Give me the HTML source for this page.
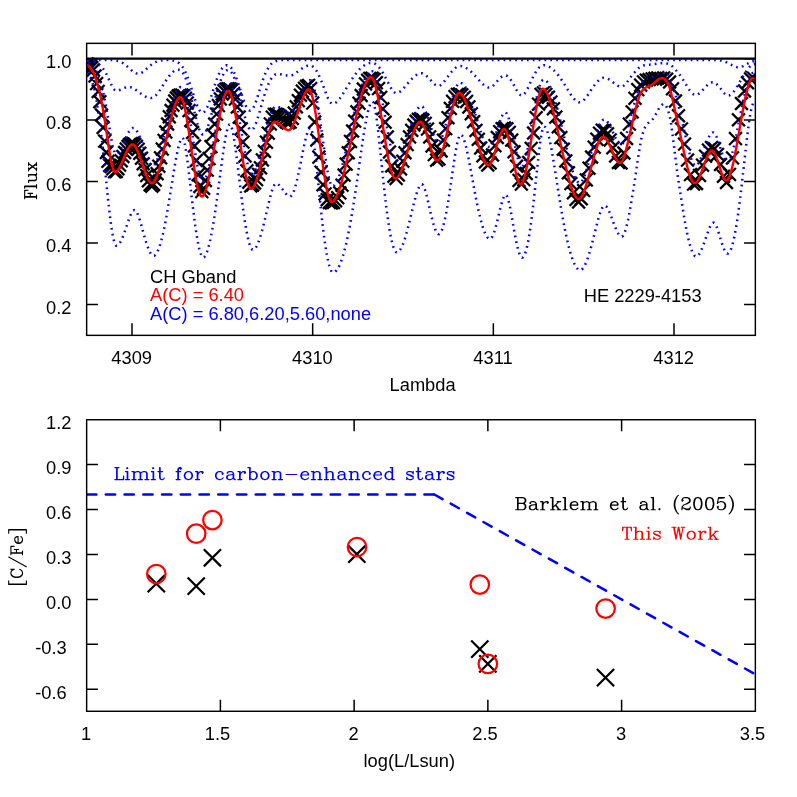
<!DOCTYPE html><html><head><meta charset="utf-8"><title>plot</title><style>html,body{margin:0;padding:0;background:#fff}svg{display:block;will-change:transform}</style></head><body><svg width="797" height="797" viewBox="0 0 797 797">
<rect width="797" height="797" fill="#fff"/>
<defs><clipPath id="c1"><rect x="86.65" y="43.35" width="668.7" height="292.0"/></clipPath><clipPath id="c2"><rect x="86.65" y="419.75" width="668.7" height="291.53"/></clipPath></defs>
<g clip-path="url(#c1)">
<line x1="86.65" y1="58.65" x2="755.35" y2="58.65" stroke="#000" stroke-width="2.25"/>
<path d="M81.4 58.3l11.2 11.2M81.4 69.5l11.2 -11.2M83.0 59.2l11.2 11.2M83.0 70.4l11.2 -11.2M84.6 60.4l11.2 11.2M84.6 71.6l11.2 -11.2M86.2 62.0l11.2 11.2M86.2 73.2l11.2 -11.2M87.8 64.3l11.2 11.2M87.8 75.5l11.2 -11.2M89.4 70.4l11.2 11.2M89.4 81.6l11.2 -11.2M91.0 78.0l11.2 11.2M91.0 89.2l11.2 -11.2M92.6 85.8l11.2 11.2M92.6 97.0l11.2 -11.2M94.2 96.1l11.2 11.2M94.2 107.3l11.2 -11.2M95.9 109.4l11.2 11.2M95.9 120.6l11.2 -11.2M97.5 121.9l11.2 11.2M97.5 133.1l11.2 -11.2M99.1 135.5l11.2 11.2M99.1 146.7l11.2 -11.2M100.8 146.9l11.2 11.2M100.8 158.1l11.2 -11.2M102.4 155.7l11.2 11.2M102.4 166.9l11.2 -11.2M104.1 159.8l11.2 11.2M104.1 171.0l11.2 -11.2M105.7 161.0l11.2 11.2M105.7 172.2l11.2 -11.2M107.3 163.2l11.2 11.2M107.3 174.4l11.2 -11.2M109.0 166.2l11.2 11.2M109.0 177.4l11.2 -11.2M110.7 165.8l11.2 11.2M110.7 177.0l11.2 -11.2M112.3 163.2l11.2 11.2M112.3 174.4l11.2 -11.2M114.0 159.5l11.2 11.2M114.0 170.7l11.2 -11.2M115.6 155.2l11.2 11.2M115.6 166.4l11.2 -11.2M117.3 150.9l11.2 11.2M117.3 162.1l11.2 -11.2M119.0 146.9l11.2 11.2M119.0 158.1l11.2 -11.2M120.7 143.5l11.2 11.2M120.7 154.7l11.2 -11.2M122.4 140.8l11.2 11.2M122.4 152.0l11.2 -11.2M124.0 138.9l11.2 11.2M124.0 150.1l11.2 -11.2M125.7 138.0l11.2 11.2M125.7 149.2l11.2 -11.2M127.4 137.9l11.2 11.2M127.4 149.1l11.2 -11.2M129.1 138.8l11.2 11.2M129.1 150.0l11.2 -11.2M130.8 140.7l11.2 11.2M130.8 151.9l11.2 -11.2M132.5 143.7l11.2 11.2M132.5 154.9l11.2 -11.2M134.2 147.7l11.2 11.2M134.2 158.9l11.2 -11.2M135.9 152.6l11.2 11.2M135.9 163.8l11.2 -11.2M137.6 158.2l11.2 11.2M137.6 169.4l11.2 -11.2M139.4 164.1l11.2 11.2M139.4 175.3l11.2 -11.2M141.1 170.0l11.2 11.2M141.1 181.2l11.2 -11.2M142.8 175.2l11.2 11.2M142.8 186.4l11.2 -11.2M144.5 179.1l11.2 11.2M144.5 190.3l11.2 -11.2M146.2 180.6l11.2 11.2M146.2 191.8l11.2 -11.2M148.0 178.9l11.2 11.2M148.0 190.1l11.2 -11.2M149.7 174.5l11.2 11.2M149.7 185.7l11.2 -11.2M151.5 168.1l11.2 11.2M151.5 179.3l11.2 -11.2M153.2 160.6l11.2 11.2M153.2 171.8l11.2 -11.2M155.0 152.2l11.2 11.2M155.0 163.4l11.2 -11.2M156.7 143.5l11.2 11.2M156.7 154.7l11.2 -11.2M158.5 134.8l11.2 11.2M158.5 146.0l11.2 -11.2M160.2 126.4l11.2 11.2M160.2 137.6l11.2 -11.2M162.0 118.4l11.2 11.2M162.0 129.6l11.2 -11.2M163.7 111.2l11.2 11.2M163.7 122.4l11.2 -11.2M165.5 104.9l11.2 11.2M165.5 116.1l11.2 -11.2M167.3 99.6l11.2 11.2M167.3 110.8l11.2 -11.2M169.1 95.4l11.2 11.2M169.1 106.6l11.2 -11.2M170.8 92.4l11.2 11.2M170.8 103.6l11.2 -11.2M172.6 90.5l11.2 11.2M172.6 101.7l11.2 -11.2M174.4 89.6l11.2 11.2M174.4 100.8l11.2 -11.2M176.2 89.5l11.2 11.2M176.2 100.7l11.2 -11.2M178.0 90.2l11.2 11.2M178.0 101.4l11.2 -11.2M179.8 92.7l11.2 11.2M179.8 103.9l11.2 -11.2M181.6 97.5l11.2 11.2M181.6 108.7l11.2 -11.2M183.4 105.0l11.2 11.2M183.4 116.2l11.2 -11.2M185.2 114.9l11.2 11.2M185.2 126.1l11.2 -11.2M187.0 126.9l11.2 11.2M187.0 138.1l11.2 -11.2M188.9 140.4l11.2 11.2M188.9 151.6l11.2 -11.2M190.7 154.9l11.2 11.2M190.7 166.1l11.2 -11.2M192.5 169.1l11.2 11.2M192.5 180.3l11.2 -11.2M194.3 180.9l11.2 11.2M194.3 192.1l11.2 -11.2M196.2 186.0l11.2 11.2M196.2 197.2l11.2 -11.2M198.0 182.7l11.2 11.2M198.0 193.9l11.2 -11.2M199.8 174.9l11.2 11.2M199.8 186.1l11.2 -11.2M201.7 164.5l11.2 11.2M201.7 175.7l11.2 -11.2M203.5 153.0l11.2 11.2M203.5 164.2l11.2 -11.2M205.4 141.0l11.2 11.2M205.4 152.2l11.2 -11.2M207.2 129.3l11.2 11.2M207.2 140.5l11.2 -11.2M209.1 118.4l11.2 11.2M209.1 129.6l11.2 -11.2M211.0 108.5l11.2 11.2M211.0 119.7l11.2 -11.2M212.8 100.0l11.2 11.2M212.8 111.2l11.2 -11.2M214.7 93.3l11.2 11.2M214.7 104.5l11.2 -11.2M216.6 88.4l11.2 11.2M216.6 99.6l11.2 -11.2M218.4 85.2l11.2 11.2M218.4 96.4l11.2 -11.2M220.3 83.6l11.2 11.2M220.3 94.8l11.2 -11.2M222.2 83.1l11.2 11.2M222.2 94.3l11.2 -11.2M224.1 83.4l11.2 11.2M224.1 94.6l11.2 -11.2M226.0 84.8l11.2 11.2M226.0 96.0l11.2 -11.2M227.9 88.0l11.2 11.2M227.9 99.2l11.2 -11.2M229.8 93.5l11.2 11.2M229.8 104.7l11.2 -11.2M231.7 101.4l11.2 11.2M231.7 112.6l11.2 -11.2M233.6 111.5l11.2 11.2M233.6 122.7l11.2 -11.2M235.5 123.4l11.2 11.2M235.5 134.6l11.2 -11.2M237.4 136.5l11.2 11.2M237.4 147.7l11.2 -11.2M239.4 150.3l11.2 11.2M239.4 161.5l11.2 -11.2M241.3 165.2l11.2 11.2M241.3 176.4l11.2 -11.2M243.2 176.6l11.2 11.2M243.2 187.8l11.2 -11.2M245.1 180.3l11.2 11.2M245.1 191.5l11.2 -11.2M247.1 179.4l11.2 11.2M247.1 190.6l11.2 -11.2M249.0 177.4l11.2 11.2M249.0 188.6l11.2 -11.2M251.0 174.0l11.2 11.2M251.0 185.2l11.2 -11.2M252.9 168.8l11.2 11.2M252.9 180.0l11.2 -11.2M254.9 162.2l11.2 11.2M254.9 173.4l11.2 -11.2M256.8 154.3l11.2 11.2M256.8 165.5l11.2 -11.2M258.8 145.7l11.2 11.2M258.8 156.9l11.2 -11.2M260.8 136.6l11.2 11.2M260.8 147.8l11.2 -11.2M262.7 127.6l11.2 11.2M262.7 138.8l11.2 -11.2M264.7 118.3l11.2 11.2M264.7 129.5l11.2 -11.2M266.7 111.6l11.2 11.2M266.7 122.8l11.2 -11.2M268.7 108.8l11.2 11.2M268.7 120.0l11.2 -11.2M270.6 108.6l11.2 11.2M270.6 119.8l11.2 -11.2M272.6 109.4l11.2 11.2M272.6 120.6l11.2 -11.2M274.6 110.8l11.2 11.2M274.6 122.0l11.2 -11.2M276.6 112.5l11.2 11.2M276.6 123.7l11.2 -11.2M278.6 114.4l11.2 11.2M278.6 125.6l11.2 -11.2M280.6 116.2l11.2 11.2M280.6 127.4l11.2 -11.2M282.6 117.3l11.2 11.2M282.6 128.5l11.2 -11.2M284.6 116.5l11.2 11.2M284.6 127.7l11.2 -11.2M286.7 112.9l11.2 11.2M286.7 124.1l11.2 -11.2M288.7 107.5l11.2 11.2M288.7 118.7l11.2 -11.2M290.7 101.2l11.2 11.2M290.7 112.4l11.2 -11.2M292.7 95.1l11.2 11.2M292.7 106.3l11.2 -11.2M294.8 89.6l11.2 11.2M294.8 100.8l11.2 -11.2M296.8 85.5l11.2 11.2M296.8 96.7l11.2 -11.2M298.9 82.7l11.2 11.2M298.9 93.9l11.2 -11.2M300.9 80.7l11.2 11.2M300.9 91.9l11.2 -11.2M303.0 79.8l11.2 11.2M303.0 91.0l11.2 -11.2M305.0 83.0l11.2 11.2M305.0 94.2l11.2 -11.2M307.1 97.5l11.2 11.2M307.1 108.7l11.2 -11.2M309.1 116.4l11.2 11.2M309.1 127.6l11.2 -11.2M311.2 134.4l11.2 11.2M311.2 145.6l11.2 -11.2M313.3 151.5l11.2 11.2M313.3 162.7l11.2 -11.2M315.4 166.6l11.2 11.2M315.4 177.8l11.2 -11.2M317.4 179.1l11.2 11.2M317.4 190.3l11.2 -11.2M319.5 188.3l11.2 11.2M319.5 199.5l11.2 -11.2M321.6 194.1l11.2 11.2M321.6 205.3l11.2 -11.2M323.7 196.8l11.2 11.2M323.7 208.0l11.2 -11.2M325.8 197.4l11.2 11.2M325.8 208.6l11.2 -11.2M327.9 196.9l11.2 11.2M327.9 208.1l11.2 -11.2M330.0 195.1l11.2 11.2M330.0 206.3l11.2 -11.2M332.1 192.1l11.2 11.2M332.1 203.3l11.2 -11.2M334.2 187.3l11.2 11.2M334.2 198.5l11.2 -11.2M336.4 179.6l11.2 11.2M336.4 190.8l11.2 -11.2M338.5 169.5l11.2 11.2M338.5 180.7l11.2 -11.2M340.6 158.5l11.2 11.2M340.6 169.7l11.2 -11.2M342.7 147.2l11.2 11.2M342.7 158.4l11.2 -11.2M344.9 135.8l11.2 11.2M344.9 147.0l11.2 -11.2M347.0 125.4l11.2 11.2M347.0 136.6l11.2 -11.2M349.1 115.5l11.2 11.2M349.1 126.7l11.2 -11.2M351.3 106.2l11.2 11.2M351.3 117.4l11.2 -11.2M353.4 97.6l11.2 11.2M353.4 108.8l11.2 -11.2M355.6 89.9l11.2 11.2M355.6 101.1l11.2 -11.2M357.7 83.4l11.2 11.2M357.7 94.6l11.2 -11.2M359.9 78.3l11.2 11.2M359.9 89.5l11.2 -11.2M362.1 74.7l11.2 11.2M362.1 85.9l11.2 -11.2M364.2 72.8l11.2 11.2M364.2 84.0l11.2 -11.2M366.4 72.6l11.2 11.2M366.4 83.8l11.2 -11.2M368.6 73.8l11.2 11.2M368.6 85.0l11.2 -11.2M370.7 77.1l11.2 11.2M370.7 88.3l11.2 -11.2M372.9 83.0l11.2 11.2M372.9 94.2l11.2 -11.2M375.1 91.8l11.2 11.2M375.1 103.0l11.2 -11.2M377.3 103.2l11.2 11.2M377.3 114.4l11.2 -11.2M379.5 116.6l11.2 11.2M379.5 127.8l11.2 -11.2M381.7 131.4l11.2 11.2M381.7 142.6l11.2 -11.2M383.9 146.4l11.2 11.2M383.9 157.6l11.2 -11.2M386.1 160.4l11.2 11.2M386.1 171.6l11.2 -11.2M388.3 170.6l11.2 11.2M388.3 181.8l11.2 -11.2M390.5 172.8l11.2 11.2M390.5 184.0l11.2 -11.2M392.7 169.4l11.2 11.2M392.7 180.6l11.2 -11.2M394.9 163.3l11.2 11.2M394.9 174.5l11.2 -11.2M397.2 155.6l11.2 11.2M397.2 166.8l11.2 -11.2M399.4 147.2l11.2 11.2M399.4 158.4l11.2 -11.2M401.6 139.0l11.2 11.2M401.6 150.2l11.2 -11.2M403.9 131.3l11.2 11.2M403.9 142.5l11.2 -11.2M406.1 124.7l11.2 11.2M406.1 135.9l11.2 -11.2M408.3 119.4l11.2 11.2M408.3 130.6l11.2 -11.2M410.6 115.7l11.2 11.2M410.6 126.9l11.2 -11.2M412.8 113.7l11.2 11.2M412.8 124.9l11.2 -11.2M415.1 113.2l11.2 11.2M415.1 124.4l11.2 -11.2M417.3 114.4l11.2 11.2M417.3 125.6l11.2 -11.2M419.6 117.8l11.2 11.2M419.6 129.0l11.2 -11.2M421.9 123.5l11.2 11.2M421.9 134.7l11.2 -11.2M424.1 131.3l11.2 11.2M424.1 142.5l11.2 -11.2M426.4 140.3l11.2 11.2M426.4 151.5l11.2 -11.2M428.7 149.0l11.2 11.2M428.7 160.2l11.2 -11.2M431.0 154.6l11.2 11.2M431.0 165.8l11.2 -11.2M433.3 153.3l11.2 11.2M433.3 164.5l11.2 -11.2M435.5 145.4l11.2 11.2M435.5 156.6l11.2 -11.2M437.8 134.6l11.2 11.2M437.8 145.8l11.2 -11.2M440.1 123.0l11.2 11.2M440.1 134.2l11.2 -11.2M442.4 112.1l11.2 11.2M442.4 123.3l11.2 -11.2M444.7 102.8l11.2 11.2M444.7 114.0l11.2 -11.2M447.0 95.7l11.2 11.2M447.0 106.9l11.2 -11.2M449.4 91.0l11.2 11.2M449.4 102.2l11.2 -11.2M451.7 88.8l11.2 11.2M451.7 100.0l11.2 -11.2M454.0 88.3l11.2 11.2M454.0 99.5l11.2 -11.2M456.3 89.3l11.2 11.2M456.3 100.5l11.2 -11.2M458.7 91.7l11.2 11.2M458.7 102.9l11.2 -11.2M461.0 95.8l11.2 11.2M461.0 107.0l11.2 -11.2M463.3 101.3l11.2 11.2M463.3 112.5l11.2 -11.2M465.7 108.2l11.2 11.2M465.7 119.4l11.2 -11.2M468.0 116.1l11.2 11.2M468.0 127.3l11.2 -11.2M470.4 124.8l11.2 11.2M470.4 136.0l11.2 -11.2M472.7 133.7l11.2 11.2M472.7 144.9l11.2 -11.2M475.1 142.4l11.2 11.2M475.1 153.6l11.2 -11.2M477.4 150.2l11.2 11.2M477.4 161.4l11.2 -11.2M479.8 156.3l11.2 11.2M479.8 167.5l11.2 -11.2M482.2 159.4l11.2 11.2M482.2 170.6l11.2 -11.2M484.5 157.3l11.2 11.2M484.5 168.5l11.2 -11.2M486.9 149.4l11.2 11.2M486.9 160.6l11.2 -11.2M489.3 140.1l11.2 11.2M489.3 151.3l11.2 -11.2M491.7 131.9l11.2 11.2M491.7 143.1l11.2 -11.2M494.1 126.1l11.2 11.2M494.1 137.3l11.2 -11.2M496.5 123.1l11.2 11.2M496.5 134.3l11.2 -11.2M498.9 122.4l11.2 11.2M498.9 133.6l11.2 -11.2M501.3 123.2l11.2 11.2M501.3 134.4l11.2 -11.2M503.7 126.8l11.2 11.2M503.7 138.0l11.2 -11.2M506.1 134.5l11.2 11.2M506.1 145.7l11.2 -11.2M508.5 146.2l11.2 11.2M508.5 157.4l11.2 -11.2M510.9 160.6l11.2 11.2M510.9 171.8l11.2 -11.2M513.4 174.8l11.2 11.2M513.4 186.0l11.2 -11.2M515.8 178.5l11.2 11.2M515.8 189.7l11.2 -11.2M518.2 174.0l11.2 11.2M518.2 185.2l11.2 -11.2M520.7 167.9l11.2 11.2M520.7 179.1l11.2 -11.2M523.1 156.9l11.2 11.2M523.1 168.1l11.2 -11.2M525.6 142.8l11.2 11.2M525.6 154.0l11.2 -11.2M528.0 127.4l11.2 11.2M528.0 138.6l11.2 -11.2M530.5 112.1l11.2 11.2M530.5 123.3l11.2 -11.2M532.9 98.6l11.2 11.2M532.9 109.8l11.2 -11.2M535.4 88.8l11.2 11.2M535.4 100.0l11.2 -11.2M537.8 87.3l11.2 11.2M537.8 98.5l11.2 -11.2M540.3 88.8l11.2 11.2M540.3 100.0l11.2 -11.2M542.8 91.6l11.2 11.2M542.8 102.8l11.2 -11.2M545.3 96.5l11.2 11.2M545.3 107.7l11.2 -11.2M547.8 103.2l11.2 11.2M547.8 114.4l11.2 -11.2M550.2 111.5l11.2 11.2M550.2 122.7l11.2 -11.2M552.7 121.2l11.2 11.2M552.7 132.4l11.2 -11.2M555.2 132.0l11.2 11.2M555.2 143.2l11.2 -11.2M557.7 143.6l11.2 11.2M557.7 154.8l11.2 -11.2M560.2 155.4l11.2 11.2M560.2 166.6l11.2 -11.2M562.8 167.1l11.2 11.2M562.8 178.3l11.2 -11.2M565.3 178.0l11.2 11.2M565.3 189.2l11.2 -11.2M567.9 187.2l11.2 11.2M567.9 198.4l11.2 -11.2M570.4 193.8l11.2 11.2M570.4 205.0l11.2 -11.2M573.0 196.4l11.2 11.2M573.0 207.6l11.2 -11.2M575.6 193.2l11.2 11.2M575.6 204.4l11.2 -11.2M578.1 185.0l11.2 11.2M578.1 196.2l11.2 -11.2M580.7 174.3l11.2 11.2M580.7 185.5l11.2 -11.2M583.4 162.6l11.2 11.2M583.4 173.8l11.2 -11.2M586.0 151.4l11.2 11.2M586.0 162.6l11.2 -11.2M588.6 141.6l11.2 11.2M588.6 152.8l11.2 -11.2M591.2 133.6l11.2 11.2M591.2 144.8l11.2 -11.2M593.9 127.6l11.2 11.2M593.9 138.8l11.2 -11.2M596.6 124.6l11.2 11.2M596.6 135.8l11.2 -11.2M599.2 124.9l11.2 11.2M599.2 136.1l11.2 -11.2M601.9 128.2l11.2 11.2M601.9 139.4l11.2 -11.2M604.6 134.3l11.2 11.2M604.6 145.5l11.2 -11.2M607.3 142.2l11.2 11.2M607.3 153.4l11.2 -11.2M610.1 150.4l11.2 11.2M610.1 161.6l11.2 -11.2M612.8 156.8l11.2 11.2M612.8 168.0l11.2 -11.2M615.5 157.4l11.2 11.2M615.5 168.6l11.2 -11.2M618.3 147.4l11.2 11.2M618.3 158.6l11.2 -11.2M621.0 132.9l11.2 11.2M621.0 144.1l11.2 -11.2M623.8 118.5l11.2 11.2M623.8 129.7l11.2 -11.2M626.6 106.3l11.2 11.2M626.6 117.5l11.2 -11.2M629.4 92.7l11.2 11.2M629.4 103.9l11.2 -11.2M632.2 84.0l11.2 11.2M632.2 95.2l11.2 -11.2M635.1 79.5l11.2 11.2M635.1 90.7l11.2 -11.2M637.9 76.3l11.2 11.2M637.9 87.5l11.2 -11.2M640.7 74.6l11.2 11.2M640.7 85.8l11.2 -11.2M643.6 74.0l11.2 11.2M643.6 85.2l11.2 -11.2M646.5 73.3l11.2 11.2M646.5 84.5l11.2 -11.2M649.4 72.7l11.2 11.2M649.4 83.9l11.2 -11.2M652.2 72.3l11.2 11.2M652.2 83.5l11.2 -11.2M655.2 72.8l11.2 11.2M655.2 84.0l11.2 -11.2M658.1 72.3l11.2 11.2M658.1 83.5l11.2 -11.2M661.0 73.6l11.2 11.2M661.0 84.8l11.2 -11.2M664.0 76.4l11.2 11.2M664.0 87.6l11.2 -11.2M666.9 83.2l11.2 11.2M666.9 94.4l11.2 -11.2M669.9 95.4l11.2 11.2M669.9 106.6l11.2 -11.2M672.9 110.2l11.2 11.2M672.9 121.4l11.2 -11.2M675.9 123.3l11.2 11.2M675.9 134.5l11.2 -11.2M678.9 138.5l11.2 11.2M678.9 149.7l11.2 -11.2M681.9 154.5l11.2 11.2M681.9 165.7l11.2 -11.2M684.9 169.0l11.2 11.2M684.9 180.2l11.2 -11.2M687.9 178.5l11.2 11.2M687.9 189.7l11.2 -11.2M690.9 177.9l11.2 11.2M690.9 189.1l11.2 -11.2M693.9 169.8l11.2 11.2M693.9 181.0l11.2 -11.2M696.9 159.6l11.2 11.2M696.9 170.8l11.2 -11.2M699.9 150.6l11.2 11.2M699.9 161.8l11.2 -11.2M702.9 144.5l11.2 11.2M702.9 155.7l11.2 -11.2M705.9 142.0l11.2 11.2M705.9 153.2l11.2 -11.2M708.9 143.1l11.2 11.2M708.9 154.3l11.2 -11.2M711.9 148.8l11.2 11.2M711.9 160.0l11.2 -11.2M714.9 158.9l11.2 11.2M714.9 170.1l11.2 -11.2M717.9 170.7l11.2 11.2M717.9 181.9l11.2 -11.2M720.9 176.9l11.2 11.2M720.9 188.1l11.2 -11.2M723.9 168.8l11.2 11.2M723.9 180.0l11.2 -11.2M726.9 152.3l11.2 11.2M726.9 163.5l11.2 -11.2M729.9 133.0l11.2 11.2M729.9 144.2l11.2 -11.2M732.9 114.2l11.2 11.2M732.9 125.4l11.2 -11.2M735.9 97.9l11.2 11.2M735.9 109.1l11.2 -11.2M738.9 85.4l11.2 11.2M738.9 96.6l11.2 -11.2M741.9 77.2l11.2 11.2M741.9 88.4l11.2 -11.2M744.9 73.3l11.2 11.2M744.9 84.5l11.2 -11.2M747.9 72.6l11.2 11.2M747.9 83.8l11.2 -11.2" stroke="#000" stroke-width="2.3" fill="none" stroke-linecap="square"/>
<path d="M87.2 59.9L88.2 59.9L89.2 59.9L90.2 59.9L91.2 59.9L92.2 59.9L93.2 59.9L94.2 59.9L95.2 59.9L96.2 59.9L97.2 59.9L98.2 59.9L99.2 59.9L100.2 59.9L101.2 59.9L102.2 59.9L103.2 59.9L104.2 59.9L105.2 59.9L106.2 59.9L107.2 59.9L108.2 59.9L109.2 60.0L110.2 60.0L111.2 60.0L112.2 60.1L113.2 60.2L114.2 60.3L115.2 60.4L116.2 60.6L117.2 60.8L118.2 61.0L119.2 61.4L120.2 61.7L121.2 62.2L122.2 62.7L123.2 63.3L124.2 64.0L125.2 64.7L126.2 65.5L127.2 66.4L128.2 67.3L129.2 68.2L130.2 69.2L131.2 70.1L132.2 70.9L133.2 71.7L134.2 72.4L135.2 72.9L136.2 73.4L137.2 73.6L138.2 73.7L139.2 73.6L140.2 73.4L141.2 73.0L142.2 72.4L143.2 71.8L144.2 71.0L145.2 70.1L146.2 69.2L147.2 68.3L148.2 67.4L149.2 66.5L150.2 65.6L151.2 64.8L152.2 64.0L153.2 63.4L154.2 62.8L155.2 62.2L156.2 61.8L157.2 61.4L158.2 61.1L159.2 60.8L160.2 60.6L161.2 60.4L162.2 60.3L163.2 60.2L164.2 60.1L165.2 60.1L166.2 60.1L167.2 60.1L168.2 60.1L169.2 60.1L170.2 60.2L171.2 60.3L172.2 60.4L173.2 60.6L174.2 60.8L175.2 61.1L176.2 61.5L177.2 62.0L178.2 62.6L179.2 63.3L180.2 64.2L181.2 65.3L182.2 66.5L183.2 68.0L184.2 69.7L185.2 71.6L186.2 73.8L187.2 76.2L188.2 78.8L189.2 81.6L190.2 84.5L191.2 87.6L192.2 90.8L193.2 94.0L194.2 97.2L195.2 100.2L196.2 103.1L197.2 105.7L198.2 108.0L199.2 109.9L200.2 111.3L201.2 112.3L202.2 112.7L203.2 112.6L204.2 112.0L205.2 110.9L206.2 109.3L207.2 107.3L208.2 105.0L209.2 102.3L210.2 99.3L211.2 96.3L212.2 93.1L213.2 89.9L214.2 86.7L215.2 83.7L216.2 80.8L217.2 78.1L218.2 75.6L219.2 73.4L220.2 71.4L221.2 69.7L222.2 68.2L223.2 67.1L224.2 66.2L225.2 65.6L226.2 65.3L227.2 65.2L228.2 65.5L229.2 66.0L230.2 66.8L231.2 67.8L232.2 69.2L233.2 70.9L234.2 72.8L235.2 75.1L236.2 77.6L237.2 80.3L238.2 83.3L239.2 86.4L240.2 89.6L241.2 92.8L242.2 95.9L243.2 99.0L244.2 101.8L245.2 104.4L246.2 106.6L247.2 108.4L248.2 109.6L249.2 110.4L250.2 110.6L251.2 110.2L252.2 109.3L253.2 107.9L254.2 106.0L255.2 103.7L256.1 101.0L257.1 98.1L258.1 95.0L259.1 91.8L260.1 88.5L261.1 85.3L262.1 82.3L263.1 79.3L264.1 76.6L265.1 74.1L266.1 71.8L267.1 69.8L268.1 68.1L269.1 66.5L270.1 65.2L271.1 64.1L272.1 63.2L273.1 62.5L274.1 61.9L275.1 61.4L276.1 61.0L277.1 60.7L278.1 60.5L279.1 60.3L280.1 60.2L281.1 60.1L282.1 60.0L283.1 60.0L284.1 60.0L285.1 59.9L286.1 59.9L287.1 59.9L288.1 59.9L289.1 59.9L290.1 59.9L291.1 59.9L292.1 59.9L293.1 59.9L294.1 59.9L295.1 59.9L296.1 59.9L297.1 59.9L298.1 59.9L299.1 59.9L300.1 59.9L301.1 59.9L302.1 59.9L303.1 59.9L304.1 59.9L305.1 59.9L306.1 59.9L307.1 59.9L308.1 59.9L309.1 59.9L310.1 59.9L311.1 59.9L312.1 59.9L313.1 59.9L314.1 59.9L315.1 59.9L316.1 59.9L317.1 59.9L318.1 59.9L319.1 59.9L320.1 59.9L321.1 59.9L322.1 59.9L323.1 59.9L324.1 59.9L325.1 59.9L326.1 59.9L327.1 59.9L328.1 59.9L329.1 59.9L330.1 59.9L331.1 59.9L332.1 59.9L333.1 59.9L334.1 59.9L335.1 59.9L336.1 59.9L337.1 59.9L338.1 59.9L339.1 59.9L340.1 59.9L341.1 59.9L342.1 59.9L343.1 59.9L344.1 59.9L345.1 59.9L346.1 59.9L347.1 59.9L348.1 59.9L349.1 59.9L350.1 59.9L351.1 59.9L352.1 59.9L353.1 59.9L354.1 59.9L355.1 59.9L356.1 59.9L357.1 59.9L358.1 59.9L359.1 59.9L360.1 59.9L361.1 59.9L362.1 59.9L363.1 59.9L364.1 59.9L365.1 59.9L366.1 59.9L367.1 59.9L368.1 59.9L369.1 59.9L370.1 59.9L371.1 59.9L372.1 59.9L373.1 59.9L374.1 59.9L375.1 59.9L376.1 59.9L377.1 59.9L378.1 59.9L379.1 59.9L380.1 59.9L381.1 59.9L382.1 59.9L383.1 59.9L384.1 59.9L385.1 59.9L386.1 59.9L387.1 59.9L388.1 59.9L389.1 59.9L390.1 59.9L391.1 59.9L392.1 59.9L393.1 59.9L394.1 59.9L395.1 59.9L396.1 59.9L397.1 59.9L398.1 59.9L399.1 59.9L400.1 59.9L401.1 59.9L402.1 59.9L403.1 59.9L404.1 59.9L405.1 59.9L406.1 59.9L407.1 59.9L408.1 59.9L409.1 59.9L410.1 59.9L411.1 59.9L412.1 59.9L413.1 59.9L414.1 59.9L415.1 59.9L416.1 59.9L417.1 59.9L418.1 59.9L419.1 59.9L420.1 59.9L421.1 59.9L422.1 59.9L423.1 59.9L424.1 59.9L425.1 59.9L426.1 59.9L427.1 59.9L428.1 59.9L429.1 59.9L430.1 59.9L431.1 59.9L432.1 59.9L433.1 59.9L434.1 59.9L435.1 59.9L436.1 59.9L437.1 59.9L438.1 59.9L439.1 59.9L440.1 59.9L441.1 59.9L442.1 59.9L443.1 59.9L444.1 59.9L445.1 59.9L446.1 59.9L447.1 59.9L448.1 59.9L449.1 59.9L450.1 59.9L451.1 59.9L452.1 59.9L453.1 59.9L454.1 59.9L455.1 59.9L456.1 59.9L457.1 59.9L458.1 59.9L459.1 59.9L460.1 59.9L461.1 59.9L462.1 59.9L463.1 59.9L464.1 59.9L465.1 59.9L466.1 59.9L467.1 59.9L468.1 59.9L469.1 59.9L470.1 59.9L471.1 59.9L472.1 59.9L473.1 59.9L474.1 59.9L475.1 59.9L476.1 59.9L477.1 59.9L478.1 59.9L479.1 59.9L480.1 59.9L481.1 59.9L482.1 59.9L483.1 59.9L484.1 59.9L485.1 59.9L486.1 59.9L487.1 59.9L488.1 59.9L489.1 59.9L490.1 59.9L491.1 59.9L492.1 59.9L493.1 59.9L494.1 59.9L495.1 59.9L496.1 59.9L497.1 59.9L498.1 59.9L499.1 59.9L500.1 59.9L501.1 59.9L502.1 59.9L503.1 59.9L504.1 59.9L505.1 59.9L506.1 59.9L507.1 59.9L508.1 59.9L509.1 59.9L510.1 59.9L511.1 59.9L512.1 59.9L513.1 59.9L514.1 59.9L515.1 59.9L516.1 59.9L517.1 59.9L518.1 59.9L519.1 59.9L520.1 59.9L521.1 59.9L522.1 59.9L523.1 59.9L524.1 59.9L525.1 59.9L526.1 59.9L527.1 59.9L528.1 59.9L529.1 59.9L530.1 59.9L531.1 59.9L532.1 59.9L533.1 59.9L534.1 59.9L535.1 59.9L536.1 59.9L537.1 59.9L538.1 59.9L539.1 59.9L540.1 59.9L541.1 59.9L542.1 59.9L543.1 59.9L544.1 59.9L545.1 59.9L546.1 59.9L547.1 59.9L548.1 59.9L549.1 59.9L550.1 59.9L551.1 59.9L552.1 59.9L553.1 59.9L554.1 59.9L555.1 59.9L556.1 59.9L557.1 59.9L558.1 59.9L559.1 59.9L560.1 59.9L561.1 59.9L562.1 59.9L563.1 59.9L564.1 59.9L565.1 59.9L566.1 59.9L567.1 59.9L568.1 59.9L569.1 59.9L570.1 59.9L571.1 59.9L572.1 59.9L573.1 59.9L574.1 59.9L575.1 59.9L576.1 59.9L577.1 59.9L578.1 59.9L579.1 59.9L580.1 59.9L581.1 59.9L582.1 59.9L583.1 59.9L584.1 59.9L585.1 59.9L586.1 59.9L587.1 59.9L588.1 59.9L589.1 59.9L590.1 59.9L591.1 59.9L592.1 59.9L593.1 59.9L594.1 59.9L595.1 59.9L596.1 59.9L597.1 59.9L598.1 59.9L599.1 59.9L600.1 59.9L601.1 59.9L602.1 59.9L603.1 59.9L604.1 59.9L605.1 59.9L606.1 59.9L607.1 59.9L608.1 59.9L609.1 59.9L610.1 59.9L611.1 59.9L612.1 59.9L613.1 59.9L614.1 59.9L615.1 59.9L616.1 59.9L617.1 59.9L618.1 59.9L619.1 59.9L620.1 59.9L621.1 59.9L622.1 59.9L623.1 59.9L624.1 59.9L625.1 59.9L626.1 59.9L627.1 59.9L628.1 59.9L629.1 59.9L630.1 59.9L631.1 59.9L632.1 59.9L633.1 59.9L634.1 59.9L635.1 59.9L636.1 59.9L637.1 59.9L638.1 59.9L639.1 59.9L640.1 59.9L641.1 59.9L642.1 59.9L643.1 59.9L644.1 59.9L645.1 59.9L646.1 59.9L647.1 59.9L648.1 59.9L649.1 59.9L650.1 59.9L651.1 59.9L652.1 59.9L653.1 59.9L654.1 59.9L655.1 59.9L656.1 59.9L657.1 59.9L658.1 59.9L659.1 59.9L660.1 59.9L661.1 59.9L662.1 59.9L663.1 59.9L664.1 59.9L665.1 59.9L666.1 59.9L667.1 59.9L668.1 59.9L669.1 59.9L670.1 59.9L671.1 59.9L672.1 59.9L673.1 59.9L674.1 59.9L675.1 59.9L676.1 59.9L677.1 59.9L678.1 59.9L679.1 59.9L680.1 59.9L681.1 59.9L682.1 59.9L683.1 59.9L684.1 59.9L685.1 59.9L686.1 59.9L687.1 59.9L688.1 59.9L689.1 59.9L690.1 59.9L691.1 59.9L692.1 59.9L693.1 59.9L694.1 59.9L695.1 59.9L696.1 59.9L697.1 59.9L698.1 59.9L699.1 59.9L700.1 59.9L701.1 59.9L702.1 59.9L703.1 59.9L704.1 59.9L705.1 59.9L706.1 59.9L707.1 59.9L708.1 59.9L709.1 59.9L710.1 59.9L711.1 59.9L712.1 59.9L713.1 59.9L714.1 60.0L715.1 60.0L716.1 60.0L717.1 60.1L718.1 60.2L719.1 60.3L720.1 60.4L721.1 60.6L722.1 60.8L723.1 61.1L724.1 61.4L725.1 61.7L726.1 62.1L727.1 62.6L728.1 63.1L729.1 63.6L730.1 64.2L731.1 64.7L732.1 65.3L733.1 65.8L734.1 66.2L735.1 66.6L736.1 66.9L737.1 67.2L738.1 67.2L739.1 67.2L740.1 67.1L741.1 66.9L742.1 66.5L743.1 66.1L744.1 65.6L745.1 65.1L746.1 64.5L747.1 64.0L748.1 63.4L749.1 62.9L750.1 62.4L751.1 62.0L752.1 61.6L753.1 61.3L754.1 61.0L755.1 60.7" stroke="#00f" stroke-width="2.5" fill="none" stroke-linecap="butt" stroke-dasharray="1.7 4.15"/>
<path d="M87.7 60.7L88.7 60.8L89.7 60.9L90.7 61.1L91.7 61.3L92.7 61.6L93.7 61.8L94.7 62.2L95.7 62.6L96.7 63.2L97.7 63.8L98.7 64.5L99.7 65.2L100.7 66.0L101.7 67.1L102.7 68.3L103.7 69.6L104.7 71.1L105.7 72.8L106.7 74.6L107.7 76.7L108.7 78.9L109.7 81.1L110.7 83.3L111.7 85.4L112.7 87.3L113.7 88.8L114.7 90.0L115.7 90.6L116.7 90.7L117.7 90.6L118.7 90.4L119.7 90.0L120.7 89.6L121.7 89.1L122.7 88.7L123.7 88.2L124.7 87.8L125.7 87.5L126.7 87.2L127.7 87.0L128.7 87.0L129.7 87.1L130.7 87.3L131.7 87.6L132.7 88.0L133.7 88.5L134.7 89.1L135.7 89.8L136.7 90.6L137.7 91.3L138.7 92.1L139.7 92.9L140.7 93.6L141.7 94.3L142.7 95.0L143.7 95.6L144.7 96.2L145.7 96.7L146.7 97.2L147.7 97.5L148.7 97.8L149.7 98.0L150.7 98.1L151.7 97.9L152.7 97.6L153.7 97.1L154.7 96.4L155.7 95.5L156.7 94.4L157.7 93.2L158.7 91.8L159.7 90.4L160.7 88.9L161.7 87.3L162.7 85.7L163.7 84.2L164.7 82.6L165.7 81.0L166.7 79.5L167.7 78.1L168.7 76.7L169.7 75.4L170.7 74.2L171.7 73.1L172.7 72.2L173.7 71.3L174.7 70.6L175.7 70.1L176.7 69.8L177.7 69.6L178.7 69.7L179.7 70.0L180.7 70.5L181.7 71.3L182.7 72.5L183.7 74.2L184.7 76.2L185.7 78.6L186.7 81.4L187.7 84.6L188.7 88.0L189.7 91.8L190.7 95.8L191.7 100.0L192.7 104.3L193.7 108.6L194.7 112.9L195.7 117.1L196.7 121.1L197.7 124.7L198.7 127.9L199.7 130.5L200.7 132.5L201.7 133.9L202.7 134.4L203.7 134.2L204.7 133.4L205.7 131.9L206.7 129.8L207.7 127.2L208.7 124.2L209.7 120.9L210.7 117.2L211.7 113.3L212.7 109.3L213.7 105.2L214.7 101.2L215.7 97.2L216.7 93.4L217.7 89.8L218.7 86.3L219.7 83.2L220.7 80.4L221.7 77.8L222.7 75.6L223.7 73.8L224.7 72.3L225.7 71.2L226.7 70.4L227.7 70.0L228.7 70.1L229.7 70.5L230.7 71.4L231.7 72.7L232.7 74.4L233.7 76.6L234.7 79.1L235.7 81.9L236.7 85.1L237.7 88.6L238.7 92.4L239.7 96.3L240.7 100.4L241.7 104.5L242.7 108.6L243.7 112.6L244.7 116.3L245.7 119.8L246.7 122.9L247.7 125.5L248.7 127.6L249.7 129.1L250.7 129.9L251.7 129.9L252.7 129.3L253.7 128.1L254.7 126.3L255.7 124.0L256.6 121.4L257.6 118.4L258.6 115.2L259.6 111.8L260.6 108.3L261.6 104.7L262.6 101.2L263.6 97.8L264.6 94.5L265.6 91.5L266.6 88.6L267.6 86.0L268.6 83.6L269.6 81.5L270.6 79.6L271.6 78.1L272.6 76.8L273.6 75.7L274.6 74.9L275.6 74.4L276.6 74.2L277.6 74.0L278.6 74.0L279.6 74.1L280.6 74.2L281.6 74.4L282.6 74.6L283.6 74.8L284.6 75.0L285.6 75.3L286.6 75.5L287.6 75.6L288.6 75.7L289.6 75.7L290.6 75.6L291.6 75.4L292.6 75.0L293.6 74.5L294.6 73.9L295.6 73.2L296.6 72.5L297.6 71.7L298.6 71.0L299.6 70.2L300.6 69.4L301.6 68.7L302.6 68.0L303.6 67.4L304.6 66.9L305.6 66.4L306.6 66.0L307.6 65.7L308.6 65.5L309.6 65.4L310.6 65.5L311.6 65.8L312.6 66.4L313.6 67.2L314.6 68.3L315.6 69.5L316.6 71.0L317.6 72.8L318.6 74.7L319.6 76.9L320.6 79.2L321.6 81.6L322.6 84.2L323.6 86.9L324.6 89.6L325.6 92.3L326.6 94.9L327.6 97.3L328.6 99.4L329.6 101.3L330.6 102.6L331.6 103.5L332.6 103.8L333.6 103.7L334.6 103.3L335.6 102.8L336.6 102.0L337.6 101.1L338.6 100.0L339.6 98.7L340.6 97.4L341.6 95.9L342.6 94.4L343.6 92.8L344.6 91.2L345.6 89.5L346.6 87.8L347.6 86.1L348.6 84.5L349.6 82.8L350.6 81.2L351.6 79.6L352.6 78.1L353.6 76.6L354.6 75.2L355.6 73.9L356.6 72.6L357.6 71.4L358.6 70.3L359.6 69.2L360.6 68.3L361.6 67.4L362.6 66.6L363.6 65.8L364.6 65.2L365.6 64.6L366.6 64.1L367.6 63.7L368.6 63.4L369.6 63.1L370.6 63.0L371.6 62.9L372.6 62.9L373.6 63.1L374.6 63.5L375.6 64.1L376.6 64.8L377.6 65.7L378.6 66.7L379.6 67.9L380.6 69.3L381.6 70.7L382.6 72.3L383.6 74.1L384.6 75.9L385.6 77.8L386.6 79.7L387.6 81.7L388.6 83.6L389.6 85.5L390.6 87.3L391.6 89.0L392.6 90.4L393.6 91.6L394.6 92.5L395.6 93.0L396.6 93.1L397.6 92.9L398.6 92.5L399.6 92.0L400.6 91.2L401.6 90.4L402.6 89.4L403.6 88.3L404.6 87.2L405.6 86.0L406.6 84.8L407.6 83.6L408.6 82.4L409.6 81.2L410.6 80.1L411.6 79.0L412.6 78.0L413.6 77.1L414.6 76.2L415.6 75.4L416.6 74.8L417.6 74.2L418.6 73.8L419.6 73.5L420.6 73.3L421.6 73.3L422.6 73.5L423.6 73.9L424.6 74.4L425.6 75.1L426.6 75.9L427.6 76.9L428.6 77.9L429.6 79.0L430.6 80.1L431.6 81.2L432.6 82.3L433.6 83.3L434.6 84.2L435.6 85.0L436.6 85.5L437.6 85.9L438.6 85.9L439.6 85.6L440.6 85.1L441.6 84.4L442.6 83.4L443.6 82.3L444.6 81.0L445.6 79.7L446.6 78.3L447.6 76.9L448.6 75.5L449.6 74.2L450.6 72.9L451.6 71.7L452.6 70.6L453.6 69.5L454.6 68.6L455.6 67.8L456.6 67.2L457.6 66.7L458.6 66.3L459.6 66.1L460.6 66.1L461.6 66.2L462.6 66.4L463.6 66.7L464.6 67.1L465.6 67.6L466.6 68.2L467.6 68.8L468.6 69.5L469.6 70.3L470.6 71.2L471.6 72.1L472.6 73.1L473.6 74.1L474.6 75.2L475.6 76.3L476.6 77.4L477.6 78.5L478.6 79.7L479.6 80.8L480.6 81.9L481.6 82.9L482.6 83.9L483.6 84.8L484.6 85.6L485.6 86.3L486.6 86.9L487.6 87.3L488.6 87.6L489.6 87.6L490.6 87.4L491.6 86.9L492.6 86.2L493.6 85.3L494.6 84.3L495.6 83.1L496.6 82.0L497.6 80.8L498.6 79.7L499.6 78.6L500.6 77.7L501.6 76.8L502.6 76.2L503.6 75.7L504.6 75.4L505.6 75.4L506.6 75.7L507.6 76.3L508.6 77.2L509.6 78.3L510.6 79.6L511.6 81.2L512.6 82.8L513.6 84.6L514.6 86.5L515.6 88.3L516.6 90.1L517.6 91.8L518.6 93.3L519.6 94.4L520.6 95.2L521.6 95.5L522.6 95.4L523.6 94.7L524.6 93.6L525.6 92.2L526.6 90.5L527.6 88.6L528.6 86.5L529.6 84.3L530.6 82.1L531.6 80.0L532.6 77.9L533.6 75.9L534.6 74.0L535.6 72.3L536.6 70.7L537.6 69.3L538.6 68.1L539.6 67.1L540.6 66.3L541.6 65.7L542.6 65.4L543.6 65.2L544.6 65.3L545.6 65.4L546.6 65.7L547.6 66.0L548.6 66.5L549.6 67.0L550.6 67.6L551.6 68.3L552.6 69.1L553.6 70.0L554.6 71.0L555.6 72.0L556.6 73.2L557.6 74.4L558.6 75.7L559.6 77.0L560.6 78.5L561.6 79.9L562.6 81.5L563.6 83.1L564.6 84.7L565.6 86.3L566.6 88.0L567.6 89.6L568.6 91.2L569.6 92.8L570.6 94.3L571.6 95.8L572.6 97.1L573.6 98.4L574.6 99.5L575.6 100.5L576.6 101.2L577.6 101.8L578.6 102.2L579.6 102.3L580.6 102.2L581.6 101.8L582.6 101.1L583.6 100.3L584.6 99.2L585.6 98.0L586.6 96.7L587.6 95.3L588.6 93.8L589.6 92.3L590.6 90.7L591.6 89.2L592.6 87.7L593.6 86.3L594.6 85.0L595.6 83.7L596.6 82.5L597.6 81.4L598.6 80.5L599.6 79.6L600.6 78.9L601.6 78.4L602.6 78.0L603.6 77.8L604.6 77.8L605.6 77.9L606.6 78.2L607.6 78.6L608.6 79.1L609.6 79.7L610.6 80.4L611.6 81.2L612.6 82.0L613.6 82.8L614.6 83.6L615.6 84.3L616.6 85.0L617.6 85.6L618.6 86.1L619.6 86.5L620.6 86.7L621.6 86.7L622.6 86.4L623.6 85.8L624.6 84.9L625.6 83.9L626.6 82.7L627.6 81.4L628.6 80.0L629.6 78.6L630.6 77.2L631.6 75.8L632.6 74.6L633.6 73.4L634.6 72.3L635.6 71.1L636.6 70.0L637.6 69.0L638.6 68.1L639.6 67.4L640.6 66.7L641.6 66.3L642.6 65.9L643.6 65.5L644.6 65.3L645.6 65.1L646.6 65.0L647.6 64.9L648.6 64.8L649.6 64.7L650.6 64.6L651.6 64.6L652.6 64.5L653.6 64.3L654.6 64.1L655.6 64.0L656.6 63.8L657.6 63.6L658.6 63.4L659.6 63.3L660.6 63.2L661.6 63.2L662.6 63.1L663.6 63.1L664.6 63.1L665.6 63.3L666.6 63.4L667.6 63.7L668.6 64.0L669.6 64.4L670.6 65.0L671.6 65.7L672.6 66.6L673.6 67.6L674.6 68.7L675.6 69.8L676.6 71.0L677.6 72.3L678.6 73.4L679.6 74.7L680.6 76.1L681.6 77.5L682.6 79.0L683.6 80.6L684.6 82.3L685.6 83.9L686.6 85.5L687.6 87.2L688.6 88.7L689.6 90.2L690.6 91.5L691.6 92.7L692.6 93.6L693.6 94.4L694.6 94.8L695.6 95.0L696.6 94.9L697.6 94.5L698.6 93.9L699.6 93.2L700.6 92.3L701.6 91.3L702.6 90.2L703.6 89.1L704.6 88.0L705.6 86.9L706.6 85.9L707.6 85.0L708.6 84.1L709.6 83.4L710.6 82.9L711.6 82.5L712.6 82.3L713.6 82.3L714.6 82.6L715.6 83.2L716.6 84.0L717.6 85.0L718.6 86.1L719.6 87.3L720.6 88.6L721.6 90.0L722.6 91.3L723.6 92.5L724.6 93.6L725.6 94.5L726.6 95.2L727.6 95.5L728.6 95.5L729.6 95.3L730.6 94.7L731.6 93.9L732.6 92.9L733.6 91.7L734.6 90.4L735.6 88.9L736.6 87.4L737.6 85.7L738.6 84.0L739.6 82.3L740.6 80.5L741.6 78.8L742.6 77.0L743.6 75.3L744.6 73.7L745.6 72.1L746.6 70.6L747.6 69.2L748.6 68.0L749.6 66.9L750.6 65.9L751.6 65.2L752.6 64.6L753.6 64.2L754.6 64.0L755.6 63.8" stroke="#00f" stroke-width="2.5" fill="none" stroke-linecap="butt" stroke-dasharray="1.7 4.15"/>
<path d="M87.7 63.0L88.7 63.5L89.7 64.1L90.7 64.8L91.7 65.6L92.7 66.5L93.7 67.5L94.7 68.6L95.7 70.2L96.7 72.3L97.7 74.6L98.7 76.9L99.7 79.5L100.7 82.4L101.7 85.9L102.7 90.0L103.7 94.4L104.7 99.1L105.7 104.4L106.7 110.2L107.7 116.4L108.7 122.7L109.7 129.0L110.7 135.1L111.7 140.8L112.7 145.7L113.7 149.7L114.7 152.5L115.7 153.9L116.7 153.9L117.7 153.3L118.7 152.2L119.7 150.8L120.7 149.0L121.7 147.1L122.7 144.9L123.7 142.7L124.7 140.4L125.7 138.1L126.7 135.9L127.7 133.9L128.7 132.1L129.7 130.5L130.7 129.3L131.7 128.4L132.7 127.9L133.7 127.9L134.7 128.4L135.7 129.3L136.7 130.7L137.7 132.5L138.7 134.6L139.7 136.9L140.7 139.5L141.7 142.2L142.7 145.0L143.7 147.9L144.7 150.8L145.7 153.7L146.7 156.4L147.7 158.9L148.7 161.1L149.7 163.0L150.7 164.4L151.7 165.4L152.7 165.8L153.7 165.5L154.7 164.7L155.7 163.2L156.7 161.2L157.7 158.8L158.7 155.9L159.7 152.6L160.7 149.1L161.7 145.3L162.7 141.3L163.7 137.1L164.7 132.9L165.7 128.6L166.7 124.4L167.7 120.2L168.7 116.1L169.7 112.1L170.7 108.3L171.7 104.7L172.7 101.4L173.7 98.3L174.7 95.6L175.7 93.2L176.7 91.1L177.7 89.5L178.7 88.2L179.7 87.4L180.7 87.1L181.7 87.4L182.7 88.5L183.7 90.5L184.7 93.4L185.7 97.0L186.7 101.3L187.7 106.2L188.7 111.6L189.7 117.5L190.7 123.7L191.7 130.1L192.7 136.7L193.7 143.3L194.7 149.8L195.7 156.0L196.7 161.9L197.7 167.2L198.7 172.0L199.7 175.9L200.7 178.9L201.7 180.8L202.7 181.5L203.7 181.1L204.7 179.8L205.7 177.7L206.7 174.9L207.7 171.4L208.7 167.4L209.7 162.8L210.7 157.9L211.7 152.6L212.7 147.1L213.7 141.4L214.7 135.7L215.7 129.9L216.7 124.2L217.7 118.6L218.7 113.2L219.7 108.1L220.7 103.3L221.7 98.9L222.7 94.9L223.7 91.4L224.7 88.5L225.7 86.0L226.7 84.2L227.7 83.1L228.7 82.6L229.7 82.8L230.7 83.9L231.7 85.8L232.7 88.4L233.7 91.7L234.7 95.5L235.7 99.9L236.7 104.8L237.7 110.0L238.7 115.6L239.7 121.3L240.7 127.3L241.7 133.3L242.7 139.2L243.7 145.0L244.7 150.6L245.7 155.8L246.7 160.5L247.7 164.7L248.7 168.2L249.7 170.9L250.7 172.8L251.7 173.6L252.7 173.5L253.7 172.7L254.7 171.2L255.7 169.1L256.6 166.6L257.6 163.6L258.6 160.3L259.6 156.6L260.6 152.7L261.6 148.6L262.6 144.5L263.6 140.2L264.6 136.0L265.6 131.9L266.6 127.9L267.6 124.1L268.6 120.6L269.6 117.3L270.6 114.4L271.6 111.8L272.6 109.7L273.6 108.1L274.6 107.0L275.6 106.4L276.6 106.4L277.6 106.5L278.6 106.9L279.6 107.5L280.6 108.1L281.6 108.9L282.6 109.7L283.6 110.5L284.6 111.3L285.6 112.0L286.6 112.6L287.6 113.1L288.6 113.4L289.6 113.5L290.6 113.2L291.6 112.5L292.6 111.3L293.6 109.8L294.6 107.9L295.6 105.9L296.6 103.6L297.6 101.2L298.6 98.8L299.6 96.3L300.6 93.8L301.6 91.5L302.6 89.2L303.6 87.1L304.6 85.2L305.6 83.6L306.6 82.2L307.6 81.2L308.6 80.5L309.6 80.2L310.6 80.4L311.6 81.6L312.6 83.6L313.6 86.4L314.6 89.9L315.6 94.1L316.6 99.0L317.6 104.5L318.6 110.5L319.6 116.9L320.6 123.7L321.6 130.7L322.6 137.9L323.6 145.1L324.6 152.2L325.6 159.0L326.6 165.4L327.6 171.2L328.6 176.3L329.6 180.5L330.6 183.6L331.6 185.6L332.6 186.2L333.6 185.9L334.6 185.1L335.6 183.9L336.6 182.1L337.6 180.0L338.6 177.5L339.6 174.6L340.6 171.4L341.6 167.9L342.6 164.2L343.6 160.3L344.6 156.1L345.6 151.9L346.6 147.5L347.6 143.0L348.6 138.5L349.6 134.0L350.6 129.4L351.6 124.9L352.6 120.5L353.6 116.2L354.6 111.9L355.6 107.8L356.6 103.9L357.6 100.1L358.6 96.5L359.6 93.1L360.6 89.9L361.6 86.9L362.6 84.2L363.6 81.7L364.6 79.4L365.6 77.4L366.6 75.7L367.6 74.2L368.6 73.0L369.6 72.1L370.6 71.5L371.6 71.3L372.6 71.4L373.6 72.2L374.6 73.6L375.6 75.6L376.6 78.1L377.6 81.2L378.6 84.8L379.6 88.8L380.6 93.2L381.6 98.0L382.6 103.1L383.6 108.4L384.6 114.0L385.6 119.6L386.6 125.3L387.6 130.9L388.6 136.3L389.6 141.4L390.6 146.2L391.6 150.5L392.6 154.2L393.6 157.2L394.6 159.4L395.6 160.7L396.6 160.9L397.6 160.5L398.6 159.6L399.6 158.2L400.6 156.3L401.6 154.1L402.6 151.6L403.6 148.9L404.6 145.9L405.6 142.7L406.6 139.5L407.6 136.2L408.6 132.8L409.6 129.6L410.6 126.3L411.6 123.2L412.6 120.3L413.6 117.5L414.6 115.0L415.6 112.7L416.6 110.7L417.6 109.0L418.6 107.7L419.6 106.7L420.6 106.2L421.6 106.2L422.6 106.7L423.6 107.9L424.6 109.6L425.6 111.7L426.6 114.2L427.6 117.0L428.6 120.0L429.6 123.1L430.6 126.4L431.6 129.5L432.6 132.6L433.6 135.4L434.6 137.9L435.6 139.9L436.6 141.4L437.6 142.3L438.6 142.4L439.6 141.7L440.6 140.3L441.6 138.2L442.6 135.6L443.6 132.5L444.6 129.0L445.6 125.2L446.6 121.2L447.6 117.1L448.6 113.0L449.6 108.9L450.6 104.9L451.6 101.0L452.6 97.4L453.6 94.1L454.6 91.1L455.6 88.5L456.6 86.3L457.6 84.6L458.6 83.4L459.6 82.8L460.6 82.7L461.6 83.1L462.6 83.8L463.6 84.8L464.6 86.1L465.6 87.7L466.6 89.6L467.6 91.7L468.6 94.1L469.6 96.7L470.6 99.4L471.6 102.3L472.6 105.4L473.6 108.6L474.6 111.8L475.6 115.1L476.6 118.5L477.6 121.8L478.6 125.1L479.6 128.3L480.6 131.4L481.6 134.3L482.6 137.0L483.6 139.5L484.6 141.7L485.6 143.5L486.6 145.0L487.6 146.1L488.6 146.8L489.6 147.0L490.6 146.4L491.6 145.1L492.6 143.2L493.6 140.8L494.6 138.0L495.6 134.9L496.6 131.6L497.6 128.3L498.6 125.1L499.6 122.1L500.6 119.3L501.6 116.9L502.6 114.9L503.6 113.4L504.6 112.6L505.6 112.5L506.6 113.4L507.6 115.2L508.6 117.8L509.6 121.1L510.6 125.0L511.6 129.3L512.6 134.1L513.6 139.0L514.6 144.0L515.6 148.9L516.6 153.5L517.6 157.7L518.6 161.4L519.6 164.3L520.6 166.2L521.6 167.0L522.6 166.6L523.6 164.9L524.6 162.3L525.6 158.7L526.6 154.4L527.6 149.4L528.6 143.9L529.6 138.1L530.6 132.1L531.6 126.0L532.6 119.9L533.6 114.0L534.6 108.3L535.6 102.9L536.6 97.9L537.6 93.4L538.6 89.5L539.6 86.1L540.6 83.4L541.6 81.4L542.6 80.1L543.6 79.6L544.6 79.8L545.6 80.3L546.6 81.2L547.6 82.4L548.6 83.9L549.6 85.7L550.6 87.8L551.6 90.2L552.6 92.8L553.6 95.7L554.6 98.8L555.6 102.1L556.6 105.7L557.6 109.4L558.6 113.4L559.6 117.4L560.6 121.6L561.6 125.9L562.6 130.3L563.6 134.7L564.6 139.1L565.6 143.5L566.6 147.9L567.6 152.1L568.6 156.3L569.6 160.2L570.6 164.0L571.6 167.6L572.6 170.8L573.6 173.8L574.6 176.4L575.6 178.6L576.6 180.4L577.6 181.8L578.6 182.6L579.6 182.9L580.6 182.6L581.6 181.7L582.6 180.2L583.6 178.2L584.6 175.7L585.6 172.9L586.6 169.7L587.6 166.3L588.6 162.7L589.6 158.9L590.6 155.0L591.6 151.1L592.6 147.3L593.6 143.5L594.6 139.8L595.6 136.4L596.6 133.1L597.6 130.1L598.6 127.4L599.6 125.0L600.6 123.0L601.6 121.4L602.6 120.3L603.6 119.7L604.6 119.6L605.6 120.0L606.6 120.9L607.6 122.1L608.6 123.6L609.6 125.3L610.6 127.3L611.6 129.4L612.6 131.6L613.6 133.8L614.6 136.0L615.6 138.1L616.6 140.0L617.6 141.7L618.6 143.1L619.6 144.0L620.6 144.6L621.6 144.6L622.6 143.7L623.6 142.1L624.6 139.8L625.6 136.9L626.6 133.6L627.6 129.9L628.6 126.0L629.6 121.9L630.6 117.9L631.6 113.8L632.6 110.0L633.6 106.3L634.6 102.9L635.6 99.2L636.6 95.6L637.6 92.4L638.6 89.5L639.6 86.9L640.6 84.8L641.6 83.1L642.6 81.8L643.6 80.7L644.6 79.9L645.6 79.3L646.6 78.8L647.6 78.4L648.6 78.1L649.6 77.8L650.6 77.5L651.6 77.2L652.6 76.9L653.6 76.4L654.6 75.7L655.6 75.1L656.6 74.5L657.6 73.9L658.6 73.3L659.6 72.8L660.6 72.5L661.6 72.2L662.6 72.0L663.6 71.9L664.6 72.1L665.6 72.6L666.6 73.2L667.6 74.0L668.6 75.2L669.6 76.6L670.6 78.6L671.6 81.4L672.6 84.4L673.6 87.7L674.6 91.4L675.6 95.1L676.6 99.0L677.6 102.9L678.6 106.5L679.6 110.4L680.6 114.5L681.6 118.8L682.6 123.3L683.6 127.9L684.6 132.4L685.6 137.0L686.6 141.4L687.6 145.7L688.6 149.8L689.6 153.6L690.6 157.0L691.6 159.9L692.6 162.3L693.6 164.1L694.6 165.3L695.6 165.7L696.6 165.4L697.6 164.5L698.6 163.1L699.6 161.2L700.6 158.9L701.6 156.4L702.6 153.7L703.6 150.8L704.6 147.9L705.6 145.1L706.6 142.4L707.6 139.9L708.6 137.6L709.6 135.7L710.6 134.1L711.6 133.0L712.6 132.5L713.6 132.6L714.6 133.4L715.6 134.9L716.6 137.0L717.6 139.5L718.6 142.4L719.6 145.5L720.6 148.8L721.6 151.9L722.6 155.0L723.6 157.7L724.6 160.0L725.6 161.7L726.6 162.7L727.6 162.9L728.6 162.1L729.6 160.6L730.6 158.3L731.6 155.3L732.6 151.8L733.6 147.8L734.6 143.4L735.6 138.7L736.6 133.8L737.6 128.7L738.6 123.6L739.6 118.4L740.6 113.3L741.6 108.3L742.6 103.5L743.6 98.8L744.6 94.4L745.6 90.4L746.6 86.6L747.6 83.2L748.6 80.2L749.6 77.7L750.6 75.6L751.6 74.0L752.6 72.9L753.6 72.4L754.6 72.3L755.6 72.3" stroke="#00f" stroke-width="2.5" fill="none" stroke-linecap="butt" stroke-dasharray="1.7 4.15"/>
<path d="M88.2 72.3L89.2 74.0L90.2 76.2L91.2 78.9L92.2 81.9L93.2 85.2L94.2 88.7L95.2 92.7L96.2 98.4L97.2 105.1L98.2 112.1L99.2 118.9L100.2 126.1L101.2 133.9L102.2 142.6L103.2 152.4L104.2 161.7L105.2 171.2L106.2 181.1L107.2 191.1L108.2 200.8L109.2 210.0L110.2 218.4L111.2 225.9L112.2 232.3L113.2 237.6L114.2 241.7L115.2 244.4L116.2 245.7L117.2 245.7L118.2 245.0L119.2 243.9L120.2 242.4L121.2 240.5L122.2 238.3L123.2 235.9L124.2 233.2L125.2 230.3L126.2 227.3L127.2 224.3L128.2 221.3L129.2 218.5L130.2 215.9L131.2 213.6L132.2 211.8L133.2 210.6L134.2 210.0L135.2 210.3L136.2 211.3L137.2 213.1L138.2 215.4L139.2 218.2L140.2 221.4L141.2 224.9L142.2 228.5L143.2 232.2L144.2 235.8L145.2 239.3L146.2 242.6L147.2 245.6L148.2 248.4L149.2 250.8L150.2 252.7L151.2 254.3L152.2 255.3L153.2 255.8L154.2 255.7L155.2 255.1L156.2 253.9L157.2 252.2L158.2 250.1L159.2 247.5L160.2 244.4L161.2 240.9L162.2 237.0L163.2 232.8L164.2 228.1L165.2 223.1L166.2 217.8L167.2 212.2L168.2 206.3L169.2 200.2L170.2 194.0L171.2 187.7L172.2 181.4L173.2 175.1L174.2 169.0L175.2 163.2L176.2 157.7L177.2 152.6L178.2 148.1L179.2 144.3L180.2 141.2L181.2 139.0L182.2 137.8L183.2 138.7L184.2 141.5L185.2 146.1L186.2 152.0L187.2 159.1L188.2 167.0L189.2 175.4L190.2 184.1L191.2 192.8L192.2 201.5L193.2 209.9L194.2 217.9L195.2 225.4L196.2 232.3L197.2 238.5L198.2 243.9L199.2 248.6L200.2 252.3L201.2 255.1L202.2 256.8L203.2 257.5L204.2 257.1L205.2 255.9L206.2 254.0L207.2 251.4L208.2 248.2L209.2 244.4L210.2 240.1L211.2 235.2L212.2 229.9L213.2 224.1L214.2 217.9L215.2 211.3L216.2 204.4L217.2 197.2L218.2 189.7L219.2 182.1L220.2 174.4L221.2 166.8L222.2 159.3L223.2 152.1L224.2 145.3L225.2 139.2L226.2 133.9L227.2 129.5L228.2 126.4L229.2 124.6L230.2 124.4L231.2 126.0L232.2 129.3L233.2 134.0L234.2 139.8L235.2 146.6L236.2 154.0L237.2 161.9L238.2 170.0L239.2 178.3L240.2 186.5L241.2 194.6L242.2 202.4L243.2 209.9L244.2 216.9L245.2 223.4L246.2 229.4L247.2 234.7L248.2 239.4L249.2 243.2L250.2 246.3L251.2 248.4L252.2 249.6L253.2 249.8L254.2 249.4L255.2 248.5L256.1 247.1L257.1 245.2L258.1 243.0L259.1 240.4L260.1 237.4L261.1 234.1L262.1 230.5L263.1 226.7L264.1 222.7L265.1 218.6L266.1 214.3L267.1 210.0L268.1 205.7L269.1 201.4L270.1 197.4L271.1 193.7L272.1 190.4L273.1 187.6L274.1 185.4L275.1 183.9L276.1 183.4L277.1 183.6L278.1 184.2L279.1 185.1L280.1 186.2L281.1 187.4L282.1 188.8L283.1 190.2L284.1 191.5L285.1 192.8L286.1 194.0L287.1 195.0L288.1 195.8L289.1 196.3L290.1 196.5L291.1 196.0L292.1 194.8L293.1 192.9L294.1 190.4L295.1 187.4L296.1 183.8L297.1 179.8L298.1 175.4L299.1 170.7L300.1 165.7L301.1 160.7L302.1 155.5L303.1 150.5L304.1 145.6L305.1 141.1L306.1 137.0L307.1 133.5L308.1 130.7L309.1 128.8L310.1 128.0L311.1 128.6L312.1 131.7L313.1 136.9L314.1 143.8L315.1 152.0L316.1 161.3L317.1 171.1L318.1 181.3L319.1 191.6L320.1 201.6L321.1 211.3L322.1 220.5L323.1 229.1L324.1 237.0L325.1 244.2L326.1 250.7L327.1 256.3L328.1 261.1L329.1 265.1L330.1 268.3L331.1 270.6L332.1 272.1L333.1 272.5L334.1 272.3L335.1 271.7L336.1 270.8L337.1 269.6L338.1 268.0L339.1 266.1L340.1 263.8L341.1 261.3L342.1 258.5L343.1 255.3L344.1 251.8L345.1 248.0L346.1 243.9L347.1 239.5L348.1 234.8L349.1 229.8L350.1 224.5L351.1 218.9L352.1 213.0L353.1 206.9L354.1 200.5L355.1 194.0L356.1 187.2L357.1 180.3L358.1 173.2L359.1 166.2L360.1 159.1L361.1 152.0L362.1 145.1L363.1 138.4L364.1 132.0L365.1 125.9L366.1 120.4L367.1 115.3L368.1 110.9L369.1 107.3L370.1 104.5L371.1 102.6L372.1 101.7L373.1 102.1L374.1 104.6L375.1 109.0L376.1 115.0L377.1 122.4L378.1 130.7L379.1 139.9L380.1 149.5L381.1 159.3L382.1 169.1L383.1 178.8L384.1 188.2L385.1 197.2L386.1 205.6L387.1 213.5L388.1 220.7L389.1 227.3L390.1 233.1L391.1 238.2L392.1 242.6L393.1 246.2L394.1 249.0L395.1 251.0L396.1 252.2L397.1 252.4L398.1 252.0L399.1 251.2L400.1 249.9L401.1 248.2L402.1 246.1L403.1 243.7L404.1 240.9L405.1 237.9L406.1 234.5L407.1 230.9L408.1 227.1L409.1 223.2L410.1 219.1L411.1 214.9L412.1 210.7L413.1 206.6L414.1 202.5L415.1 198.7L416.1 195.1L417.1 191.9L418.1 189.2L419.1 186.9L420.1 185.3L421.1 184.4L422.1 184.3L423.1 185.3L424.1 187.3L425.1 190.1L426.1 193.5L427.1 197.5L428.1 201.7L429.1 206.2L430.1 210.6L431.1 214.9L432.1 219.0L433.1 222.8L434.1 226.2L435.1 229.1L436.1 231.4L437.1 233.1L438.1 234.0L439.1 234.2L440.1 233.4L441.1 231.8L442.1 229.5L443.1 226.4L444.1 222.7L445.1 218.3L446.1 213.4L447.1 207.9L448.1 202.0L449.1 195.6L450.1 188.9L451.1 182.0L452.1 175.0L453.1 168.0L454.1 161.2L455.1 154.8L456.1 148.9L457.1 143.7L458.1 139.5L459.1 136.5L460.1 134.9L461.1 134.7L462.1 135.6L463.1 137.4L464.1 140.0L465.1 143.2L466.1 147.0L467.1 151.4L468.1 156.1L469.1 161.2L470.1 166.5L471.1 171.9L472.1 177.5L473.1 183.0L474.1 188.4L475.1 193.8L476.1 199.0L477.1 204.0L478.1 208.7L479.1 213.2L480.1 217.4L481.1 221.3L482.1 224.9L483.1 228.1L484.1 230.9L485.1 233.4L486.1 235.4L487.1 237.0L488.1 238.1L489.1 238.8L490.1 239.0L491.1 238.4L492.1 237.1L493.1 235.0L494.1 232.4L495.1 229.2L496.1 225.6L497.1 221.7L498.1 217.5L499.1 213.3L500.1 209.1L501.1 205.2L502.1 201.6L503.1 198.6L504.1 196.3L505.1 195.0L506.1 194.9L507.1 196.3L508.1 199.0L509.1 203.0L510.1 207.7L511.1 213.1L512.1 218.8L513.1 224.6L514.1 230.4L515.1 235.8L516.1 240.9L517.1 245.5L518.1 249.5L519.1 252.8L520.1 255.3L521.1 257.0L522.1 257.7L523.1 257.3L524.1 255.9L525.1 253.6L526.1 250.4L527.1 246.4L528.1 241.5L529.1 235.8L530.1 229.4L531.1 222.3L532.1 214.5L533.1 206.1L534.1 197.2L535.1 187.9L536.1 178.5L537.1 169.0L538.1 159.8L539.1 151.1L540.1 143.2L541.1 136.5L542.1 131.2L543.1 127.8L544.1 126.5L545.1 127.0L546.1 128.4L547.1 130.7L548.1 133.8L549.1 137.7L550.1 142.2L551.1 147.2L552.1 152.6L553.1 158.4L554.1 164.5L555.1 170.7L556.1 177.1L557.1 183.5L558.1 189.9L559.1 196.2L560.1 202.4L561.1 208.5L562.1 214.3L563.1 220.0L564.1 225.4L565.1 230.5L566.1 235.3L567.1 239.9L568.1 244.2L569.1 248.1L570.1 251.8L571.1 255.1L572.1 258.2L573.1 260.9L574.1 263.2L575.1 265.3L576.1 267.0L577.1 268.3L578.1 269.3L579.1 269.9L580.1 270.1L581.1 269.9L582.1 269.2L583.1 268.1L584.1 266.6L585.1 264.7L586.1 262.5L587.1 259.9L588.1 257.1L589.1 254.0L590.1 250.6L591.1 247.0L592.1 243.2L593.1 239.3L594.1 235.3L595.1 231.3L596.1 227.3L597.1 223.4L598.1 219.7L599.1 216.3L600.1 213.1L601.1 210.4L602.1 208.2L603.1 206.7L604.1 205.8L605.1 205.6L606.1 206.2L607.1 207.4L608.1 209.1L609.1 211.2L610.1 213.6L611.1 216.2L612.1 218.9L613.1 221.7L614.1 224.4L615.1 227.0L616.1 229.4L617.1 231.5L618.1 233.4L619.1 234.9L620.1 235.9L621.1 236.5L622.1 236.5L623.1 235.6L624.1 233.8L625.1 231.3L626.1 228.0L627.1 224.0L628.1 219.5L629.1 214.4L630.1 208.9L631.1 203.1L632.1 197.0L633.1 190.8L634.1 184.6L635.1 178.6L636.1 171.6L637.1 164.3L638.1 157.7L639.1 151.2L640.1 145.1L641.1 139.8L642.1 135.8L643.1 132.3L644.1 129.4L645.1 127.2L646.1 125.6L647.1 124.3L648.1 123.2L649.1 122.2L650.1 121.3L651.1 120.6L652.1 119.9L653.1 118.8L654.1 117.3L655.1 115.5L656.1 113.6L657.1 111.8L658.1 109.9L659.1 108.0L660.1 106.6L661.1 105.6L662.1 104.7L663.1 104.1L664.1 103.9L665.1 104.5L666.1 106.0L667.1 107.9L668.1 110.4L669.1 113.8L670.1 118.1L671.1 123.8L672.1 131.3L673.1 139.1L674.1 147.0L675.1 155.3L676.1 163.3L677.1 171.1L678.1 178.4L679.1 184.9L680.1 191.5L681.1 198.0L682.1 204.5L683.1 210.8L684.1 216.9L685.1 222.7L686.1 228.1L687.1 233.1L688.1 237.7L689.1 241.9L690.1 245.6L691.1 248.8L692.1 251.5L693.1 253.6L694.1 255.2L695.1 256.2L696.1 256.6L697.1 256.3L698.1 255.6L699.1 254.3L700.1 252.6L701.1 250.6L702.1 248.3L703.1 245.7L704.1 242.9L705.1 240.0L706.1 237.1L707.1 234.2L708.1 231.4L709.1 228.8L710.1 226.5L711.1 224.7L712.1 223.4L713.1 222.7L714.1 222.8L715.1 223.8L716.1 225.6L717.1 228.0L718.1 230.9L719.1 234.1L720.1 237.4L721.1 240.7L722.1 243.8L723.1 246.7L724.1 249.2L725.1 251.2L726.1 252.7L727.1 253.5L728.1 253.5L729.1 252.7L730.1 251.2L731.1 248.9L732.1 245.9L733.1 242.2L734.1 237.9L735.1 232.9L736.1 227.2L737.1 220.9L738.1 214.0L739.1 206.6L740.1 198.7L741.1 190.3L742.1 181.6L743.1 172.7L744.1 163.7L745.1 154.6L746.1 145.7L747.1 137.1L748.1 129.0L749.1 121.6L750.1 115.1L751.1 109.8L752.1 105.7L753.1 103.2L754.1 102.4L755.1 102.8L756.1 103.3" stroke="#00f" stroke-width="2.5" fill="none" stroke-linecap="butt" stroke-dasharray="1.7 4.15"/>
<path d="M86.7 64.7L87.7 65.4L88.7 66.3L89.7 67.4L90.7 68.6L91.7 70.0L92.7 71.5L93.7 73.2L94.7 75.7L95.7 78.7L96.7 81.9L97.7 85.1L98.7 88.6L99.7 92.5L100.7 97.1L101.7 102.4L102.7 107.8L103.7 113.5L104.7 119.8L105.7 126.5L106.7 133.4L107.7 140.3L108.7 147.0L109.7 153.3L110.7 159.0L111.7 163.9L112.7 167.8L113.7 170.6L114.7 171.9L115.7 171.9L116.7 171.3L117.7 170.3L118.7 168.9L119.7 167.1L120.7 165.2L121.7 163.0L122.7 160.7L123.7 158.3L124.7 155.9L125.7 153.6L126.7 151.5L127.7 149.4L128.7 147.7L129.7 146.3L130.7 145.2L131.7 144.5L132.7 144.4L133.7 144.9L134.7 145.8L135.7 147.3L136.7 149.2L137.7 151.4L138.7 153.9L139.7 156.6L140.7 159.5L141.7 162.5L142.7 165.4L143.7 168.4L144.7 171.3L145.7 174.0L146.7 176.4L147.7 178.6L148.7 180.5L149.7 181.9L150.7 182.8L151.7 183.2L152.7 183.0L153.7 182.2L154.7 180.8L155.7 178.9L156.7 176.6L157.7 173.8L158.7 170.7L159.7 167.2L160.7 163.5L161.7 159.5L162.7 155.3L163.7 151.0L164.7 146.5L165.7 142.0L166.7 137.5L167.7 133.0L168.7 128.6L169.7 124.3L170.7 120.1L171.7 116.2L172.7 112.5L173.7 109.1L174.7 106.0L175.7 103.3L176.7 101.1L177.7 99.3L178.7 98.0L179.7 97.3L180.7 97.3L181.7 98.3L182.7 100.5L183.7 103.7L184.7 107.9L185.7 112.7L186.7 118.3L187.7 124.3L188.7 130.8L189.7 137.5L190.7 144.5L191.7 151.4L192.7 158.3L193.7 165.0L194.7 171.3L195.7 177.3L196.7 182.6L197.7 187.3L198.7 191.1L199.7 194.0L200.7 195.9L201.7 196.6L202.7 196.2L203.7 194.9L204.7 192.9L205.7 190.2L206.7 186.8L207.7 182.8L208.7 178.3L209.7 173.4L210.7 168.2L211.7 162.6L212.7 156.8L213.7 150.9L214.7 144.9L215.7 138.8L216.7 132.8L217.7 127.0L218.7 121.3L219.7 115.9L220.7 110.9L221.7 106.2L222.7 102.1L223.7 98.4L224.7 95.4L225.7 93.1L226.7 91.5L227.7 90.8L228.7 90.9L229.7 92.1L230.7 94.3L231.7 97.3L232.7 101.1L233.7 105.6L234.7 110.6L235.7 116.1L236.7 121.9L237.7 128.1L238.7 134.4L239.7 140.8L240.7 147.1L241.7 153.4L242.7 159.5L243.7 165.2L244.7 170.6L245.7 175.4L246.7 179.7L247.7 183.3L248.7 186.0L249.7 187.9L250.7 188.8L251.7 188.8L252.7 188.0L253.7 186.6L254.7 184.7L255.7 182.3L256.6 179.5L257.6 176.3L258.6 172.8L259.6 169.0L260.6 165.1L261.6 161.0L262.6 156.8L263.6 152.6L264.6 148.5L265.6 144.4L266.6 140.5L267.6 136.8L268.6 133.4L269.6 130.3L270.6 127.6L271.6 125.4L272.6 123.6L273.6 122.4L274.6 121.8L275.6 121.9L276.6 122.1L277.6 122.6L278.6 123.3L279.6 124.1L280.6 124.9L281.6 125.9L282.6 126.8L283.6 127.7L284.6 128.5L285.6 129.2L286.6 129.7L287.6 130.1L288.6 130.2L289.6 129.9L290.6 129.0L291.6 127.7L292.6 126.0L293.6 123.9L294.6 121.5L295.6 118.9L296.6 116.1L297.6 113.1L298.6 110.2L299.6 107.2L300.6 104.2L301.6 101.4L302.6 98.7L303.6 96.3L304.6 94.1L305.6 92.3L306.6 90.9L307.6 89.9L308.6 89.5L309.6 89.9L310.6 91.4L311.6 94.1L312.6 97.7L313.6 102.2L314.6 107.5L315.6 113.4L316.6 119.9L317.6 126.8L318.6 133.9L319.6 141.3L320.6 148.7L321.6 156.1L322.6 163.3L323.6 170.3L324.6 176.8L325.6 182.9L326.6 188.3L327.6 193.0L328.6 196.8L329.6 199.7L330.6 201.4L331.6 202.0L332.6 201.7L333.6 201.0L334.6 199.9L335.6 198.3L336.6 196.4L337.6 194.1L338.6 191.4L339.6 188.5L340.6 185.3L341.6 181.8L342.6 178.0L343.6 174.1L344.6 170.0L345.6 165.7L346.6 161.3L347.6 156.7L348.6 152.1L349.6 147.4L350.6 142.6L351.6 137.9L352.6 133.1L353.6 128.4L354.6 123.8L355.6 119.2L356.6 114.7L357.6 110.4L358.6 106.2L359.6 102.2L360.6 98.4L361.6 94.9L362.6 91.6L363.6 88.5L364.6 85.8L365.6 83.4L366.6 81.3L367.6 79.7L368.6 78.4L369.6 77.5L370.6 77.1L371.6 77.3L372.6 78.4L373.6 80.4L374.6 83.2L375.6 86.8L376.6 90.9L377.6 95.6L378.6 100.8L379.6 106.4L380.6 112.2L381.6 118.3L382.6 124.5L383.6 130.7L384.6 136.9L385.6 143.0L386.6 148.9L387.6 154.5L388.6 159.7L389.6 164.4L390.6 168.6L391.6 172.2L392.6 175.1L393.6 177.2L394.6 178.4L395.6 178.7L396.6 178.3L397.6 177.4L398.6 176.0L399.6 174.3L400.6 172.2L401.6 169.7L402.6 167.0L403.6 164.1L404.6 161.0L405.6 157.7L406.6 154.4L407.6 150.9L408.6 147.5L409.6 144.1L410.6 140.8L411.6 137.6L412.6 134.6L413.6 131.8L414.6 129.3L415.6 127.0L416.6 125.1L417.6 123.6L418.6 122.5L419.6 121.9L420.6 121.8L421.6 122.5L422.6 123.8L423.6 125.7L424.6 128.1L425.6 130.9L426.6 134.0L427.6 137.3L428.6 140.7L429.6 144.2L430.6 147.5L431.6 150.7L432.6 153.6L433.6 156.1L434.6 158.2L435.6 159.7L436.6 160.5L437.6 160.6L438.6 160.0L439.6 158.5L440.6 156.4L441.6 153.7L442.6 150.5L443.6 146.9L444.6 142.9L445.6 138.6L446.6 134.2L447.6 129.6L448.6 124.9L449.6 120.3L450.6 115.8L451.6 111.5L452.6 107.5L453.6 103.8L454.6 100.5L455.6 97.7L456.6 95.4L457.6 93.9L458.6 93.0L459.6 93.0L460.6 93.4L461.6 94.3L462.6 95.7L463.6 97.4L464.6 99.5L465.6 101.9L466.6 104.5L467.6 107.5L468.6 110.6L469.6 113.9L470.6 117.4L471.6 121.0L472.6 124.6L473.6 128.3L474.6 132.0L475.6 135.7L476.6 139.3L477.6 142.8L478.6 146.2L479.6 149.4L480.6 152.4L481.6 155.2L482.6 157.7L483.6 159.9L484.6 161.8L485.6 163.3L486.6 164.4L487.6 165.0L488.6 165.2L489.6 164.7L490.6 163.4L491.6 161.5L492.6 159.0L493.6 156.2L494.6 153.0L495.6 149.7L496.6 146.2L497.6 142.8L498.6 139.6L499.6 136.6L500.6 133.9L501.6 131.7L502.6 130.1L503.6 129.2L504.6 129.1L505.6 130.1L506.6 132.1L507.6 134.9L508.6 138.5L509.6 142.7L510.6 147.3L511.6 152.2L512.6 157.2L513.6 162.2L514.6 167.0L515.6 171.6L516.6 175.6L517.6 179.1L518.6 181.8L519.6 183.6L520.6 184.4L521.6 184.0L522.6 182.5L523.6 180.0L524.6 176.6L525.6 172.4L526.6 167.6L527.6 162.2L528.6 156.4L529.6 150.2L530.6 143.8L531.6 137.3L532.6 130.7L533.6 124.3L534.6 118.1L535.6 112.1L536.6 106.7L537.6 101.7L538.6 97.4L539.6 93.8L540.6 91.2L541.6 89.4L542.6 88.8L543.6 89.0L544.6 89.7L545.6 90.9L546.6 92.5L547.6 94.5L548.6 96.8L549.6 99.5L550.6 102.5L551.6 105.8L552.6 109.4L553.6 113.2L554.6 117.2L555.6 121.3L556.6 125.6L557.6 130.0L558.6 134.5L559.6 139.1L560.6 143.7L561.6 148.3L562.6 152.8L563.6 157.3L564.6 161.7L565.6 166.1L566.6 170.2L567.6 174.2L568.6 178.0L569.6 181.6L570.6 184.9L571.6 188.0L572.6 190.7L573.6 193.1L574.6 195.1L575.6 196.8L576.6 198.0L577.6 198.7L578.6 199.0L579.6 198.7L580.6 197.9L581.6 196.5L582.6 194.7L583.6 192.5L584.6 189.9L585.6 186.9L586.6 183.7L587.6 180.3L588.6 176.7L589.6 173.0L590.6 169.3L591.6 165.5L592.6 161.7L593.6 158.1L594.6 154.5L595.6 151.2L596.6 148.1L597.6 145.2L598.6 142.7L599.6 140.6L600.6 138.9L601.6 137.7L602.6 137.0L603.6 136.9L604.6 137.4L605.6 138.3L606.6 139.6L607.6 141.2L608.6 143.1L609.6 145.2L610.6 147.4L611.6 149.7L612.6 152.0L613.6 154.2L614.6 156.3L615.6 158.3L616.6 159.9L617.6 161.3L618.6 162.3L619.6 162.8L620.6 162.8L621.6 162.0L622.6 160.3L623.6 158.0L624.6 155.1L625.6 151.7L626.6 147.9L627.6 143.8L628.6 139.4L629.6 135.0L630.6 130.6L631.6 126.2L632.6 122.1L633.6 118.1L634.6 113.7L635.6 109.3L636.6 105.4L637.6 101.8L638.6 98.4L639.6 95.6L640.6 93.5L641.6 91.7L642.6 90.3L643.6 89.1L644.6 88.3L645.6 87.7L646.6 87.2L647.6 86.7L648.6 86.3L649.6 85.9L650.6 85.6L651.6 85.1L652.6 84.3L653.6 83.5L654.6 82.6L655.6 81.7L656.6 80.8L657.6 80.0L658.6 79.3L659.6 78.9L660.6 78.5L661.6 78.2L662.6 78.1L663.6 78.4L664.6 79.1L665.6 80.0L666.6 81.1L667.6 82.7L668.6 84.7L669.6 87.5L670.6 91.2L671.6 95.2L672.6 99.5L673.6 104.1L674.6 108.7L675.6 113.4L676.6 118.0L677.6 122.3L678.6 126.7L679.6 131.3L680.6 136.1L681.6 140.9L682.6 145.7L683.6 150.5L684.6 155.2L685.6 159.7L686.6 164.0L687.6 168.0L688.6 171.6L689.6 174.9L690.6 177.7L691.6 180.0L692.6 181.7L693.6 182.8L694.6 183.2L695.6 182.9L696.6 182.1L697.6 180.7L698.6 178.9L699.6 176.8L700.6 174.3L701.6 171.7L702.6 169.0L703.6 166.1L704.6 163.4L705.6 160.6L706.6 158.1L707.6 155.8L708.6 153.8L709.6 152.3L710.6 151.1L711.6 150.6L712.6 150.6L713.6 151.5L714.6 153.1L715.6 155.2L716.6 157.8L717.6 160.7L718.6 163.8L719.6 166.9L720.6 170.0L721.6 173.0L722.6 175.6L723.6 177.8L724.6 179.4L725.6 180.3L726.6 180.4L727.6 179.7L728.6 178.2L729.6 176.0L730.6 173.1L731.6 169.7L732.6 165.7L733.6 161.3L734.6 156.4L735.6 151.3L736.6 145.9L737.6 140.3L738.6 134.6L739.6 128.8L740.6 123.0L741.6 117.3L742.6 111.7L743.6 106.4L744.6 101.3L745.6 96.5L746.6 92.2L747.6 88.3L748.6 84.9L749.6 82.2L750.6 80.1L751.6 78.8L752.6 78.2L753.6 78.2L754.6 78.3" stroke="#f00" stroke-width="2.45" fill="none" stroke-linejoin="round"/>
</g>
<rect x="86.65" y="43.35" width="668.7" height="292.0" fill="none" stroke="#000" stroke-width="1.45"/>
<path d="M132.00 43.35v12.2M132.00 335.35v-12.2M312.67 43.35v12.2M312.67 335.35v-12.2M493.34 43.35v12.2M493.34 335.35v-12.2M674.01 43.35v12.2M674.01 335.35v-12.2M86.65 58.65h11.3M755.35 58.65h-11.3M86.65 120.12h11.3M755.35 120.12h-11.3M86.65 181.60h11.3M755.35 181.60h-11.3M86.65 243.07h11.3M755.35 243.07h-11.3M86.65 304.55h11.3M755.35 304.55h-11.3" stroke="#000" stroke-width="1.5" fill="none"/>
<g font-family="Liberation Sans, sans-serif" font-size="18.3" fill="#000">
<text x="131.7" y="363.5" text-anchor="middle">4309</text>
<text x="312.4" y="363.5" text-anchor="middle">4310</text>
<text x="493.0" y="363.5" text-anchor="middle">4311</text>
<text x="673.7" y="363.5" text-anchor="middle">4312</text>
<text x="71.5" y="68.0" text-anchor="end">1.0</text>
<text x="71.5" y="129.4" text-anchor="end">0.8</text>
<text x="71.5" y="190.9" text-anchor="end">0.6</text>
<text x="71.5" y="252.4" text-anchor="end">0.4</text>
<text x="71.5" y="313.9" text-anchor="end">0.2</text>
<text x="422.6" y="391.4" text-anchor="middle">Lambda</text>
<text x="150" y="282.7">CH Gband</text>
<text x="150" y="301.3" fill="#f00">A(C) = 6.40</text>
<text x="150" y="319.6" fill="#00f">A(C) = 6.80,6.20,5.60,none</text>
<text x="583.7" y="301.8">HE 2229-4153</text>
</g>
<g><title>Flux</title><path transform="translate(36.55 199.70) rotate(-90) scale(0.5246 0.5667)" d="M5.00 -21.00L5.00 0.00M6.00 -21.00L6.00 0.00M2.00 -21.00L18.00 -21.00M12.00 -15.00L12.00 -7.00M2.00 0.00L9.00 0.00M17.00 -21.00L18.00 -15.00M18.00 -21.00L18.00 -15.00M6.00 -11.00L12.00 -11.00M25.00 -21.00L25.00 0.00M26.00 -21.00L26.00 0.00M22.00 0.00L29.00 0.00M22.00 -21.00L26.00 -21.00M47.00 -14.00L47.00 0.00M48.00 -14.00L48.00 0.00M36.00 -14.00L36.00 -3.00M37.00 -14.00L37.00 -3.00M33.00 -14.00L37.00 -14.00M44.00 -14.00L48.00 -14.00M47.00 0.00L51.00 0.00M37.00 -1.00L40.00 0.00M45.00 -1.00L42.00 0.00M47.00 -3.00L45.00 -1.00M36.00 -3.00L37.00 -1.00M37.00 -3.00L38.00 -1.00M38.00 -1.00L40.00 0.00M40.00 0.00L42.00 0.00M69.00 -14.00L57.00 0.00M57.00 -14.00L68.00 0.00M58.00 -14.00L69.00 0.00M55.00 -14.00L61.00 -14.00M65.00 -14.00L71.00 -14.00M55.00 0.00L61.00 0.00M65.00 0.00L71.00 0.00" fill="none" stroke="#000" stroke-width="1.1" vector-effect="non-scaling-stroke" stroke-linecap="round" stroke-linejoin="round"/></g>
<g clip-path="url(#c2)">
<path d="M87.05000000000001 494.52L434.37 494.52" stroke="#00f" stroke-width="2.5" fill="none" stroke-dasharray="9.37 9.37" stroke-linecap="round"/>
<path d="M434.37 494.52L755.35 674.32" stroke="#00f" stroke-width="2.5" fill="none" stroke-dasharray="9.37 9.37" stroke-linecap="round"/>
</g>
<path d="M147.70 575.00l17.20 17.20M147.70 592.20l17.20 -17.20M187.60 577.50l17.20 17.20M187.60 594.70l17.20 -17.20M203.80 549.20l17.20 17.20M203.80 566.40l17.20 -17.20M348.25 545.60l17.20 17.20M348.25 562.80l17.20 -17.20M471.20 640.50l17.20 17.20M471.20 657.70l17.20 -17.20M479.25 655.30l17.20 17.20M479.25 672.50l17.20 -17.20M596.90 669.00l17.20 17.20M596.90 686.20l17.20 -17.20" stroke="#000" stroke-width="2.25" fill="none" stroke-linecap="butt"/>
<circle cx="156.3" cy="574.0" r="9.25" fill="none" stroke="#f00" stroke-width="2.25"/>
<circle cx="196.2" cy="533.7" r="9.25" fill="none" stroke="#f00" stroke-width="2.25"/>
<circle cx="212.4" cy="520.1" r="9.25" fill="none" stroke="#f00" stroke-width="2.25"/>
<circle cx="357.0" cy="547.0" r="9.25" fill="none" stroke="#f00" stroke-width="2.25"/>
<circle cx="479.8" cy="584.6" r="9.25" fill="none" stroke="#f00" stroke-width="2.25"/>
<circle cx="487.85" cy="663.9" r="9.25" fill="none" stroke="#f00" stroke-width="2.25"/>
<circle cx="605.6" cy="608.6" r="9.25" fill="none" stroke="#f00" stroke-width="2.25"/>
<rect x="86.65" y="419.75" width="668.7" height="291.53" fill="none" stroke="#000" stroke-width="1.45"/>
<path d="M220.39 419.75v11.5M220.39 711.28v-11.5M354.13 419.75v11.5M354.13 711.28v-11.5M487.87 419.75v11.5M487.87 711.28v-11.5M621.61 419.75v11.5M621.61 711.28v-11.5M86.65 464.55h11.3M755.35 464.55h-11.3M86.65 509.50h11.3M755.35 509.50h-11.3M86.65 554.45h11.3M755.35 554.45h-11.3M86.65 599.40h11.3M755.35 599.40h-11.3M86.65 644.35h11.3M755.35 644.35h-11.3M86.65 689.30h11.3M755.35 689.30h-11.3" stroke="#000" stroke-width="1.5" fill="none"/>
<g font-family="Liberation Sans, sans-serif" font-size="18.3" fill="#000">
<text x="86.1" y="739.6" text-anchor="middle">1</text>
<text x="217.5" y="739.6" text-anchor="middle">1.5</text>
<text x="353.5" y="739.6" text-anchor="middle">2</text>
<text x="485.0" y="739.6" text-anchor="middle">2.5</text>
<text x="621.0" y="739.6" text-anchor="middle">3</text>
<text x="752.5" y="739.6" text-anchor="middle">3.5</text>
<text x="71.5" y="428.8" text-anchor="end">1.2</text>
<text x="71.5" y="473.7" text-anchor="end">0.9</text>
<text x="71.5" y="518.7" text-anchor="end">0.6</text>
<text x="71.5" y="563.6" text-anchor="end">0.3</text>
<text x="71.5" y="608.6" text-anchor="end">0.0</text>
<text x="66.8" y="653.6" text-anchor="end">-0.3</text>
<text x="66.8" y="698.5" text-anchor="end">-0.6</text>
<text x="409.3" y="767.3" text-anchor="middle">log(L/Lsun)</text>
</g>
<g><title>Limit for carbon-enhanced stars</title><path transform="translate(113.67 479.60) scale(0.5885 0.5714)" d="M5.00 -21.00L5.00 0.00M6.00 -21.00L6.00 0.00M2.00 0.00L17.00 0.00M2.00 -21.00L9.00 -21.00M17.00 -6.00L16.00 0.00M17.00 -6.00L17.00 0.00M23.00 -14.00L23.00 0.00M24.00 -14.00L24.00 0.00M20.00 0.00L27.00 0.00M20.00 -14.00L24.00 -14.00M23.00 -21.00L22.00 -20.00M23.00 -21.00L24.00 -20.00M22.00 -20.00L23.00 -19.00M24.00 -20.00L23.00 -19.00M34.00 -14.00L34.00 0.00M35.00 -14.00L35.00 0.00M45.00 -11.00L45.00 0.00M46.00 -11.00L46.00 0.00M56.00 -11.00L56.00 0.00M57.00 -11.00L57.00 0.00M31.00 0.00L38.00 0.00M42.00 0.00L49.00 0.00M53.00 0.00L60.00 0.00M31.00 -14.00L35.00 -14.00M40.00 -14.00L37.00 -13.00M42.00 -14.00L45.00 -13.00M51.00 -14.00L48.00 -13.00M53.00 -14.00L56.00 -13.00M37.00 -13.00L35.00 -11.00M48.00 -13.00L46.00 -11.00M42.00 -14.00L44.00 -13.00M53.00 -14.00L55.00 -13.00M44.00 -13.00L45.00 -11.00M45.00 -13.00L46.00 -11.00M55.00 -13.00L56.00 -11.00M56.00 -13.00L57.00 -11.00M40.00 -14.00L42.00 -14.00M51.00 -14.00L53.00 -14.00M67.00 -14.00L67.00 0.00M68.00 -14.00L68.00 0.00M64.00 0.00L71.00 0.00M64.00 -14.00L68.00 -14.00M67.00 -21.00L66.00 -20.00M67.00 -21.00L68.00 -20.00M66.00 -20.00L67.00 -19.00M68.00 -20.00L67.00 -19.00M78.00 -21.00L78.00 -4.00M79.00 -21.00L79.00 -4.00M75.00 -14.00L83.00 -14.00M78.00 -4.00L79.00 -1.00M79.00 -4.00L80.00 -1.00M86.00 -3.00L85.00 -1.00M79.00 -1.00L81.00 0.00M85.00 -1.00L83.00 0.00M81.00 0.00L83.00 0.00M109.00 -18.00L109.00 0.00M110.00 -18.00L110.00 0.00M106.00 -14.00L114.00 -14.00M106.00 0.00L113.00 0.00M112.00 -21.00L110.00 -20.00M110.00 -20.00L109.00 -18.00M111.00 -20.00L110.00 -18.00M112.00 -21.00L114.00 -21.00M114.00 -21.00L115.00 -20.00M114.00 -20.00L113.00 -19.00M113.00 -19.00L114.00 -18.00M115.00 -19.00L114.00 -18.00M115.00 -20.00L115.00 -19.00M126.00 -14.00L123.00 -13.00M128.00 -14.00L131.00 -13.00M121.00 -11.00L120.00 -8.00M122.00 -11.00L121.00 -8.00M132.00 -11.00L133.00 -8.00M133.00 -11.00L134.00 -8.00M120.00 -6.00L121.00 -3.00M121.00 -6.00L122.00 -3.00M133.00 -6.00L132.00 -3.00M134.00 -6.00L133.00 -3.00M123.00 -1.00L126.00 0.00M131.00 -1.00L128.00 0.00M123.00 -13.00L121.00 -11.00M124.00 -13.00L122.00 -11.00M130.00 -13.00L132.00 -11.00M131.00 -13.00L133.00 -11.00M121.00 -3.00L123.00 -1.00M122.00 -3.00L124.00 -1.00M132.00 -3.00L130.00 -1.00M133.00 -3.00L131.00 -1.00M126.00 -14.00L124.00 -13.00M124.00 -1.00L126.00 0.00M126.00 -14.00L128.00 -14.00M120.00 -8.00L120.00 -6.00M121.00 -8.00L121.00 -6.00M133.00 -8.00L133.00 -6.00M134.00 -8.00L134.00 -6.00M126.00 0.00L128.00 0.00M142.00 -14.00L142.00 0.00M143.00 -14.00L143.00 0.00M139.00 0.00L146.00 0.00M139.00 -14.00L143.00 -14.00M144.00 -11.00L143.00 -8.00M148.00 -14.00L151.00 -14.00M146.00 -13.00L144.00 -11.00M148.00 -14.00L146.00 -13.00M151.00 -14.00L152.00 -13.00M151.00 -13.00L150.00 -12.00M150.00 -12.00L151.00 -11.00M152.00 -12.00L151.00 -11.00M152.00 -13.00L152.00 -12.00M179.00 -14.00L176.00 -13.00M174.00 -11.00L173.00 -8.00M175.00 -11.00L174.00 -8.00M173.00 -6.00L174.00 -3.00M174.00 -6.00L175.00 -3.00M176.00 -1.00L179.00 0.00M184.00 -1.00L181.00 0.00M179.00 -14.00L182.00 -14.00M176.00 -13.00L174.00 -11.00M177.00 -13.00L175.00 -11.00M184.00 -13.00L186.00 -11.00M174.00 -3.00L176.00 -1.00M175.00 -3.00L177.00 -1.00M186.00 -3.00L184.00 -1.00M179.00 -14.00L177.00 -13.00M182.00 -14.00L184.00 -13.00M177.00 -1.00L179.00 0.00M173.00 -8.00L173.00 -6.00M174.00 -8.00L174.00 -6.00M179.00 0.00L181.00 0.00M185.00 -11.00L184.00 -10.00M184.00 -10.00L185.00 -9.00M186.00 -10.00L185.00 -9.00M186.00 -11.00L186.00 -10.00M203.00 -12.00L203.00 -3.00M204.00 -10.00L204.00 -3.00M202.00 -9.00L196.00 -8.00M196.00 -14.00L200.00 -14.00M196.00 -8.00L193.00 -7.00M193.00 -1.00L196.00 0.00M196.00 0.00L199.00 0.00M203.00 -3.00L201.00 -1.00M196.00 -14.00L194.00 -13.00M200.00 -14.00L202.00 -13.00M203.00 -12.00L204.00 -10.00M196.00 -8.00L194.00 -7.00M193.00 -7.00L192.00 -5.00M194.00 -7.00L193.00 -5.00M192.00 -3.00L193.00 -1.00M193.00 -3.00L194.00 -1.00M203.00 -3.00L204.00 -1.00M204.00 -3.00L205.00 -1.00M194.00 -1.00L196.00 0.00M201.00 -1.00L199.00 0.00M204.00 -1.00L206.00 0.00M192.00 -5.00L192.00 -3.00M193.00 -5.00L193.00 -3.00M194.00 -13.00L193.00 -12.00M202.00 -13.00L203.00 -12.00M203.00 -10.00L202.00 -9.00M193.00 -12.00L193.00 -11.00M194.00 -12.00L194.00 -11.00M193.00 -11.00L194.00 -11.00M206.00 0.00L207.00 0.00M214.00 -14.00L214.00 0.00M215.00 -14.00L215.00 0.00M211.00 0.00L218.00 0.00M211.00 -14.00L215.00 -14.00M216.00 -11.00L215.00 -8.00M220.00 -14.00L223.00 -14.00M218.00 -13.00L216.00 -11.00M220.00 -14.00L218.00 -13.00M223.00 -14.00L224.00 -13.00M223.00 -13.00L222.00 -12.00M222.00 -12.00L223.00 -11.00M224.00 -12.00L223.00 -11.00M224.00 -13.00L224.00 -12.00M231.00 -21.00L231.00 0.00M232.00 -21.00L232.00 0.00M228.00 -21.00L232.00 -21.00M238.00 -14.00L241.00 -13.00M242.00 -11.00L243.00 -8.00M243.00 -11.00L244.00 -8.00M243.00 -6.00L242.00 -3.00M244.00 -6.00L243.00 -3.00M241.00 -1.00L238.00 0.00M234.00 -13.00L232.00 -11.00M240.00 -13.00L242.00 -11.00M241.00 -13.00L243.00 -11.00M232.00 -3.00L234.00 -1.00M242.00 -3.00L240.00 -1.00M243.00 -3.00L241.00 -1.00M236.00 -14.00L234.00 -13.00M234.00 -1.00L236.00 0.00M236.00 -14.00L238.00 -14.00M243.00 -8.00L243.00 -6.00M244.00 -8.00L244.00 -6.00M236.00 0.00L238.00 0.00M256.00 -14.00L253.00 -13.00M258.00 -14.00L261.00 -13.00M251.00 -11.00L250.00 -8.00M252.00 -11.00L251.00 -8.00M262.00 -11.00L263.00 -8.00M263.00 -11.00L264.00 -8.00M250.00 -6.00L251.00 -3.00M251.00 -6.00L252.00 -3.00M263.00 -6.00L262.00 -3.00M264.00 -6.00L263.00 -3.00M253.00 -1.00L256.00 0.00M261.00 -1.00L258.00 0.00M253.00 -13.00L251.00 -11.00M254.00 -13.00L252.00 -11.00M260.00 -13.00L262.00 -11.00M261.00 -13.00L263.00 -11.00M251.00 -3.00L253.00 -1.00M252.00 -3.00L254.00 -1.00M262.00 -3.00L260.00 -1.00M263.00 -3.00L261.00 -1.00M256.00 -14.00L254.00 -13.00M254.00 -1.00L256.00 0.00M256.00 -14.00L258.00 -14.00M250.00 -8.00L250.00 -6.00M251.00 -8.00L251.00 -6.00M263.00 -8.00L263.00 -6.00M264.00 -8.00L264.00 -6.00M256.00 0.00L258.00 0.00M272.00 -14.00L272.00 0.00M273.00 -14.00L273.00 0.00M283.00 -11.00L283.00 0.00M284.00 -11.00L284.00 0.00M269.00 0.00L276.00 0.00M280.00 0.00L287.00 0.00M269.00 -14.00L273.00 -14.00M278.00 -14.00L275.00 -13.00M280.00 -14.00L283.00 -13.00M275.00 -13.00L273.00 -11.00M280.00 -14.00L282.00 -13.00M282.00 -13.00L283.00 -11.00M283.00 -13.00L284.00 -11.00M278.00 -14.00L280.00 -14.00M293.00 -9.00L311.00 -9.00M319.00 -8.00L331.00 -8.00M324.00 -14.00L321.00 -13.00M319.00 -11.00L318.00 -8.00M320.00 -11.00L319.00 -8.00M318.00 -6.00L319.00 -3.00M319.00 -6.00L320.00 -3.00M321.00 -1.00L324.00 0.00M329.00 -1.00L326.00 0.00M324.00 -14.00L327.00 -14.00M330.00 -11.00L330.00 -8.00M321.00 -13.00L319.00 -11.00M322.00 -13.00L320.00 -11.00M319.00 -3.00L321.00 -1.00M320.00 -3.00L322.00 -1.00M331.00 -3.00L329.00 -1.00M324.00 -14.00L322.00 -13.00M327.00 -14.00L329.00 -13.00M329.00 -13.00L330.00 -11.00M330.00 -12.00L331.00 -10.00M322.00 -1.00L324.00 0.00M331.00 -10.00L331.00 -8.00M318.00 -8.00L318.00 -6.00M319.00 -8.00L319.00 -6.00M324.00 0.00L326.00 0.00M339.00 -14.00L339.00 0.00M340.00 -14.00L340.00 0.00M350.00 -11.00L350.00 0.00M351.00 -11.00L351.00 0.00M336.00 0.00L343.00 0.00M347.00 0.00L354.00 0.00M336.00 -14.00L340.00 -14.00M345.00 -14.00L342.00 -13.00M347.00 -14.00L350.00 -13.00M342.00 -13.00L340.00 -11.00M347.00 -14.00L349.00 -13.00M349.00 -13.00L350.00 -11.00M350.00 -13.00L351.00 -11.00M345.00 -14.00L347.00 -14.00M361.00 -21.00L361.00 0.00M362.00 -21.00L362.00 0.00M372.00 -11.00L372.00 0.00M373.00 -11.00L373.00 0.00M358.00 0.00L365.00 0.00M369.00 0.00L376.00 0.00M358.00 -21.00L362.00 -21.00M367.00 -14.00L364.00 -13.00M369.00 -14.00L372.00 -13.00M364.00 -13.00L362.00 -11.00M369.00 -14.00L371.00 -13.00M371.00 -13.00L372.00 -11.00M372.00 -13.00L373.00 -11.00M367.00 -14.00L369.00 -14.00M392.00 -12.00L392.00 -3.00M393.00 -10.00L393.00 -3.00M391.00 -9.00L385.00 -8.00M385.00 -14.00L389.00 -14.00M385.00 -8.00L382.00 -7.00M382.00 -1.00L385.00 0.00M385.00 0.00L388.00 0.00M392.00 -3.00L390.00 -1.00M385.00 -14.00L383.00 -13.00M389.00 -14.00L391.00 -13.00M392.00 -12.00L393.00 -10.00M385.00 -8.00L383.00 -7.00M382.00 -7.00L381.00 -5.00M383.00 -7.00L382.00 -5.00M381.00 -3.00L382.00 -1.00M382.00 -3.00L383.00 -1.00M392.00 -3.00L393.00 -1.00M393.00 -3.00L394.00 -1.00M383.00 -1.00L385.00 0.00M390.00 -1.00L388.00 0.00M393.00 -1.00L395.00 0.00M381.00 -5.00L381.00 -3.00M382.00 -5.00L382.00 -3.00M383.00 -13.00L382.00 -12.00M391.00 -13.00L392.00 -12.00M392.00 -10.00L391.00 -9.00M382.00 -12.00L382.00 -11.00M383.00 -12.00L383.00 -11.00M382.00 -11.00L383.00 -11.00M395.00 0.00L396.00 0.00M403.00 -14.00L403.00 0.00M404.00 -14.00L404.00 0.00M414.00 -11.00L414.00 0.00M415.00 -11.00L415.00 0.00M400.00 0.00L407.00 0.00M411.00 0.00L418.00 0.00M400.00 -14.00L404.00 -14.00M409.00 -14.00L406.00 -13.00M411.00 -14.00L414.00 -13.00M406.00 -13.00L404.00 -11.00M411.00 -14.00L413.00 -13.00M413.00 -13.00L414.00 -11.00M414.00 -13.00L415.00 -11.00M409.00 -14.00L411.00 -14.00M429.00 -14.00L426.00 -13.00M424.00 -11.00L423.00 -8.00M425.00 -11.00L424.00 -8.00M423.00 -6.00L424.00 -3.00M424.00 -6.00L425.00 -3.00M426.00 -1.00L429.00 0.00M434.00 -1.00L431.00 0.00M429.00 -14.00L432.00 -14.00M426.00 -13.00L424.00 -11.00M427.00 -13.00L425.00 -11.00M434.00 -13.00L436.00 -11.00M424.00 -3.00L426.00 -1.00M425.00 -3.00L427.00 -1.00M436.00 -3.00L434.00 -1.00M429.00 -14.00L427.00 -13.00M432.00 -14.00L434.00 -13.00M427.00 -1.00L429.00 0.00M423.00 -8.00L423.00 -6.00M424.00 -8.00L424.00 -6.00M429.00 0.00L431.00 0.00M435.00 -11.00L434.00 -10.00M434.00 -10.00L435.00 -9.00M436.00 -10.00L435.00 -9.00M436.00 -11.00L436.00 -10.00M443.00 -8.00L455.00 -8.00M448.00 -14.00L445.00 -13.00M443.00 -11.00L442.00 -8.00M444.00 -11.00L443.00 -8.00M442.00 -6.00L443.00 -3.00M443.00 -6.00L444.00 -3.00M445.00 -1.00L448.00 0.00M453.00 -1.00L450.00 0.00M448.00 -14.00L451.00 -14.00M454.00 -11.00L454.00 -8.00M445.00 -13.00L443.00 -11.00M446.00 -13.00L444.00 -11.00M443.00 -3.00L445.00 -1.00M444.00 -3.00L446.00 -1.00M455.00 -3.00L453.00 -1.00M448.00 -14.00L446.00 -13.00M451.00 -14.00L453.00 -13.00M453.00 -13.00L454.00 -11.00M454.00 -12.00L455.00 -10.00M446.00 -1.00L448.00 0.00M455.00 -10.00L455.00 -8.00M442.00 -8.00L442.00 -6.00M443.00 -8.00L443.00 -6.00M448.00 0.00L450.00 0.00M473.00 -21.00L473.00 0.00M474.00 -21.00L474.00 0.00M470.00 -21.00L474.00 -21.00M473.00 0.00L477.00 0.00M467.00 -14.00L464.00 -13.00M462.00 -11.00L461.00 -8.00M463.00 -11.00L462.00 -8.00M461.00 -6.00L462.00 -3.00M462.00 -6.00L463.00 -3.00M464.00 -1.00L467.00 0.00M464.00 -13.00L462.00 -11.00M465.00 -13.00L463.00 -11.00M471.00 -13.00L473.00 -11.00M462.00 -3.00L464.00 -1.00M463.00 -3.00L465.00 -1.00M473.00 -3.00L471.00 -1.00M467.00 -14.00L465.00 -13.00M469.00 -14.00L471.00 -13.00M465.00 -1.00L467.00 0.00M471.00 -1.00L469.00 0.00M467.00 -14.00L469.00 -14.00M461.00 -8.00L461.00 -6.00M462.00 -8.00L462.00 -6.00M467.00 0.00L469.00 0.00M501.00 -9.00L506.00 -7.00M501.00 -8.00L506.00 -6.00M501.00 -14.00L505.00 -14.00M509.00 -14.00L509.00 -10.00M498.00 -4.00L498.00 0.00M502.00 0.00L506.00 0.00M509.00 -5.00L509.00 -2.00M501.00 -14.00L499.00 -13.00M505.00 -14.00L507.00 -13.00M509.00 -14.00L508.00 -12.00M508.00 -12.00L509.00 -10.00M499.00 -10.00L501.00 -9.00M499.00 -9.00L501.00 -8.00M506.00 -7.00L508.00 -6.00M506.00 -6.00L508.00 -5.00M498.00 -4.00L499.00 -2.00M499.00 -2.00L498.00 0.00M500.00 -1.00L502.00 0.00M508.00 -1.00L506.00 0.00M498.00 -12.00L498.00 -10.00M499.00 -13.00L498.00 -12.00M507.00 -13.00L508.00 -12.00M498.00 -11.00L499.00 -10.00M498.00 -10.00L499.00 -9.00M508.00 -6.00L509.00 -5.00M508.00 -5.00L509.00 -4.00M499.00 -2.00L500.00 -1.00M509.00 -2.00L508.00 -1.00M517.00 -21.00L517.00 -4.00M518.00 -21.00L518.00 -4.00M514.00 -14.00L522.00 -14.00M517.00 -4.00L518.00 -1.00M518.00 -4.00L519.00 -1.00M525.00 -3.00L524.00 -1.00M518.00 -1.00L520.00 0.00M524.00 -1.00L522.00 0.00M520.00 0.00L522.00 0.00M541.00 -12.00L541.00 -3.00M542.00 -10.00L542.00 -3.00M540.00 -9.00L534.00 -8.00M534.00 -14.00L538.00 -14.00M534.00 -8.00L531.00 -7.00M531.00 -1.00L534.00 0.00M534.00 0.00L537.00 0.00M541.00 -3.00L539.00 -1.00M534.00 -14.00L532.00 -13.00M538.00 -14.00L540.00 -13.00M541.00 -12.00L542.00 -10.00M534.00 -8.00L532.00 -7.00M531.00 -7.00L530.00 -5.00M532.00 -7.00L531.00 -5.00M530.00 -3.00L531.00 -1.00M531.00 -3.00L532.00 -1.00M541.00 -3.00L542.00 -1.00M542.00 -3.00L543.00 -1.00M532.00 -1.00L534.00 0.00M539.00 -1.00L537.00 0.00M542.00 -1.00L544.00 0.00M530.00 -5.00L530.00 -3.00M531.00 -5.00L531.00 -3.00M532.00 -13.00L531.00 -12.00M540.00 -13.00L541.00 -12.00M541.00 -10.00L540.00 -9.00M531.00 -12.00L531.00 -11.00M532.00 -12.00L532.00 -11.00M531.00 -11.00L532.00 -11.00M544.00 0.00L545.00 0.00M552.00 -14.00L552.00 0.00M553.00 -14.00L553.00 0.00M549.00 0.00L556.00 0.00M549.00 -14.00L553.00 -14.00M554.00 -11.00L553.00 -8.00M558.00 -14.00L561.00 -14.00M556.00 -13.00L554.00 -11.00M558.00 -14.00L556.00 -13.00M561.00 -14.00L562.00 -13.00M561.00 -13.00L560.00 -12.00M560.00 -12.00L561.00 -11.00M562.00 -12.00L561.00 -11.00M562.00 -13.00L562.00 -12.00M570.00 -9.00L575.00 -7.00M570.00 -8.00L575.00 -6.00M570.00 -14.00L574.00 -14.00M578.00 -14.00L578.00 -10.00M567.00 -4.00L567.00 0.00M571.00 0.00L575.00 0.00M578.00 -5.00L578.00 -2.00M570.00 -14.00L568.00 -13.00M574.00 -14.00L576.00 -13.00M578.00 -14.00L577.00 -12.00M577.00 -12.00L578.00 -10.00M568.00 -10.00L570.00 -9.00M568.00 -9.00L570.00 -8.00M575.00 -7.00L577.00 -6.00M575.00 -6.00L577.00 -5.00M567.00 -4.00L568.00 -2.00M568.00 -2.00L567.00 0.00M569.00 -1.00L571.00 0.00M577.00 -1.00L575.00 0.00M567.00 -12.00L567.00 -10.00M568.00 -13.00L567.00 -12.00M576.00 -13.00L577.00 -12.00M567.00 -11.00L568.00 -10.00M567.00 -10.00L568.00 -9.00M577.00 -6.00L578.00 -5.00M577.00 -5.00L578.00 -4.00M568.00 -2.00L569.00 -1.00M578.00 -2.00L577.00 -1.00" fill="none" stroke="#00f" stroke-width="1.1" vector-effect="non-scaling-stroke" stroke-linecap="round" stroke-linejoin="round"/></g>
<g><title>Barklem et al. (2005)</title><path transform="translate(514.57 509.75) scale(0.5913 0.5786)" d="M5.00 -21.00L5.00 0.00M6.00 -21.00L6.00 0.00M2.00 -21.00L14.00 -21.00M2.00 0.00L14.00 0.00M6.00 -11.00L14.00 -11.00M14.00 -21.00L17.00 -20.00M17.00 -12.00L14.00 -11.00M14.00 -11.00L17.00 -10.00M17.00 -1.00L14.00 0.00M18.00 -7.00L18.00 -4.00M19.00 -7.00L19.00 -4.00M14.00 -21.00L16.00 -20.00M17.00 -19.00L18.00 -17.00M18.00 -19.00L19.00 -17.00M18.00 -15.00L17.00 -13.00M19.00 -15.00L18.00 -13.00M16.00 -12.00L14.00 -11.00M14.00 -11.00L16.00 -10.00M17.00 -9.00L18.00 -7.00M18.00 -9.00L19.00 -7.00M18.00 -4.00L17.00 -2.00M19.00 -4.00L18.00 -2.00M16.00 -1.00L14.00 0.00M18.00 -17.00L18.00 -15.00M19.00 -17.00L19.00 -15.00M16.00 -20.00L17.00 -19.00M17.00 -20.00L18.00 -19.00M17.00 -13.00L16.00 -12.00M18.00 -13.00L17.00 -12.00M16.00 -10.00L17.00 -9.00M17.00 -10.00L18.00 -9.00M17.00 -2.00L16.00 -1.00M18.00 -2.00L17.00 -1.00M36.00 -12.00L36.00 -3.00M37.00 -10.00L37.00 -3.00M35.00 -9.00L29.00 -8.00M29.00 -14.00L33.00 -14.00M29.00 -8.00L26.00 -7.00M26.00 -1.00L29.00 0.00M29.00 0.00L32.00 0.00M36.00 -3.00L34.00 -1.00M29.00 -14.00L27.00 -13.00M33.00 -14.00L35.00 -13.00M36.00 -12.00L37.00 -10.00M29.00 -8.00L27.00 -7.00M26.00 -7.00L25.00 -5.00M27.00 -7.00L26.00 -5.00M25.00 -3.00L26.00 -1.00M26.00 -3.00L27.00 -1.00M36.00 -3.00L37.00 -1.00M37.00 -3.00L38.00 -1.00M27.00 -1.00L29.00 0.00M34.00 -1.00L32.00 0.00M37.00 -1.00L39.00 0.00M25.00 -5.00L25.00 -3.00M26.00 -5.00L26.00 -3.00M27.00 -13.00L26.00 -12.00M35.00 -13.00L36.00 -12.00M36.00 -10.00L35.00 -9.00M26.00 -12.00L26.00 -11.00M27.00 -12.00L27.00 -11.00M26.00 -11.00L27.00 -11.00M39.00 0.00L40.00 0.00M47.00 -14.00L47.00 0.00M48.00 -14.00L48.00 0.00M44.00 0.00L51.00 0.00M44.00 -14.00L48.00 -14.00M49.00 -11.00L48.00 -8.00M53.00 -14.00L56.00 -14.00M51.00 -13.00L49.00 -11.00M53.00 -14.00L51.00 -13.00M56.00 -14.00L57.00 -13.00M56.00 -13.00L55.00 -12.00M55.00 -12.00L56.00 -11.00M57.00 -12.00L56.00 -11.00M57.00 -13.00L57.00 -12.00M64.00 -21.00L64.00 0.00M65.00 -21.00L65.00 0.00M75.00 -14.00L65.00 -4.00M69.00 -8.00L75.00 0.00M70.00 -8.00L76.00 0.00M61.00 0.00L68.00 0.00M72.00 -14.00L78.00 -14.00M72.00 0.00L78.00 0.00M61.00 -21.00L65.00 -21.00M85.00 -21.00L85.00 0.00M86.00 -21.00L86.00 0.00M82.00 0.00L89.00 0.00M82.00 -21.00L86.00 -21.00M95.00 -8.00L107.00 -8.00M100.00 -14.00L97.00 -13.00M95.00 -11.00L94.00 -8.00M96.00 -11.00L95.00 -8.00M94.00 -6.00L95.00 -3.00M95.00 -6.00L96.00 -3.00M97.00 -1.00L100.00 0.00M105.00 -1.00L102.00 0.00M100.00 -14.00L103.00 -14.00M106.00 -11.00L106.00 -8.00M97.00 -13.00L95.00 -11.00M98.00 -13.00L96.00 -11.00M95.00 -3.00L97.00 -1.00M96.00 -3.00L98.00 -1.00M107.00 -3.00L105.00 -1.00M100.00 -14.00L98.00 -13.00M103.00 -14.00L105.00 -13.00M105.00 -13.00L106.00 -11.00M106.00 -12.00L107.00 -10.00M98.00 -1.00L100.00 0.00M107.00 -10.00L107.00 -8.00M94.00 -8.00L94.00 -6.00M95.00 -8.00L95.00 -6.00M100.00 0.00L102.00 0.00M115.00 -14.00L115.00 0.00M116.00 -14.00L116.00 0.00M126.00 -11.00L126.00 0.00M127.00 -11.00L127.00 0.00M137.00 -11.00L137.00 0.00M138.00 -11.00L138.00 0.00M112.00 0.00L119.00 0.00M123.00 0.00L130.00 0.00M134.00 0.00L141.00 0.00M112.00 -14.00L116.00 -14.00M121.00 -14.00L118.00 -13.00M123.00 -14.00L126.00 -13.00M132.00 -14.00L129.00 -13.00M134.00 -14.00L137.00 -13.00M118.00 -13.00L116.00 -11.00M129.00 -13.00L127.00 -11.00M123.00 -14.00L125.00 -13.00M134.00 -14.00L136.00 -13.00M125.00 -13.00L126.00 -11.00M126.00 -13.00L127.00 -11.00M136.00 -13.00L137.00 -11.00M137.00 -13.00L138.00 -11.00M121.00 -14.00L123.00 -14.00M132.00 -14.00L134.00 -14.00M163.00 -8.00L175.00 -8.00M168.00 -14.00L165.00 -13.00M163.00 -11.00L162.00 -8.00M164.00 -11.00L163.00 -8.00M162.00 -6.00L163.00 -3.00M163.00 -6.00L164.00 -3.00M165.00 -1.00L168.00 0.00M173.00 -1.00L170.00 0.00M168.00 -14.00L171.00 -14.00M174.00 -11.00L174.00 -8.00M165.00 -13.00L163.00 -11.00M166.00 -13.00L164.00 -11.00M163.00 -3.00L165.00 -1.00M164.00 -3.00L166.00 -1.00M175.00 -3.00L173.00 -1.00M168.00 -14.00L166.00 -13.00M171.00 -14.00L173.00 -13.00M173.00 -13.00L174.00 -11.00M174.00 -12.00L175.00 -10.00M166.00 -1.00L168.00 0.00M175.00 -10.00L175.00 -8.00M162.00 -8.00L162.00 -6.00M163.00 -8.00L163.00 -6.00M168.00 0.00L170.00 0.00M183.00 -21.00L183.00 -4.00M184.00 -21.00L184.00 -4.00M180.00 -14.00L188.00 -14.00M183.00 -4.00L184.00 -1.00M184.00 -4.00L185.00 -1.00M191.00 -3.00L190.00 -1.00M184.00 -1.00L186.00 0.00M190.00 -1.00L188.00 0.00M186.00 0.00L188.00 0.00M223.00 -12.00L223.00 -3.00M224.00 -10.00L224.00 -3.00M222.00 -9.00L216.00 -8.00M216.00 -14.00L220.00 -14.00M216.00 -8.00L213.00 -7.00M213.00 -1.00L216.00 0.00M216.00 0.00L219.00 0.00M223.00 -3.00L221.00 -1.00M216.00 -14.00L214.00 -13.00M220.00 -14.00L222.00 -13.00M223.00 -12.00L224.00 -10.00M216.00 -8.00L214.00 -7.00M213.00 -7.00L212.00 -5.00M214.00 -7.00L213.00 -5.00M212.00 -3.00L213.00 -1.00M213.00 -3.00L214.00 -1.00M223.00 -3.00L224.00 -1.00M224.00 -3.00L225.00 -1.00M214.00 -1.00L216.00 0.00M221.00 -1.00L219.00 0.00M224.00 -1.00L226.00 0.00M212.00 -5.00L212.00 -3.00M213.00 -5.00L213.00 -3.00M214.00 -13.00L213.00 -12.00M222.00 -13.00L223.00 -12.00M223.00 -10.00L222.00 -9.00M213.00 -12.00L213.00 -11.00M214.00 -12.00L214.00 -11.00M213.00 -11.00L214.00 -11.00M226.00 0.00L227.00 0.00M234.00 -21.00L234.00 0.00M235.00 -21.00L235.00 0.00M231.00 0.00L238.00 0.00M231.00 -21.00L235.00 -21.00M245.00 -2.00L244.00 -1.00M245.00 -2.00L246.00 -1.00M244.00 -1.00L245.00 0.00M246.00 -1.00L245.00 0.00M271.00 -16.00L270.00 -11.00M272.00 -16.00L271.00 -11.00M270.00 -7.00L271.00 -2.00M271.00 -7.00L272.00 -2.00M275.00 -23.00L273.00 -19.00M273.00 -20.00L271.00 -16.00M271.00 -2.00L273.00 2.00M273.00 1.00L275.00 5.00M270.00 -11.00L270.00 -7.00M271.00 -11.00L271.00 -7.00M275.00 -23.00L273.00 -20.00M273.00 2.00L275.00 5.00M273.00 -19.00L272.00 -16.00M272.00 -2.00L273.00 1.00M277.00 -25.00L275.00 -23.00M275.00 5.00L277.00 7.00M292.00 -11.00L286.00 -8.00M286.00 -3.00L291.00 0.00M293.00 -11.00L288.00 -9.00M286.00 -3.00L291.00 -1.00M288.00 -21.00L292.00 -21.00M291.00 0.00L295.00 0.00M295.00 -13.00L292.00 -11.00M296.00 -13.00L293.00 -11.00M288.00 -21.00L285.00 -20.00M292.00 -21.00L295.00 -20.00M284.00 -6.00L283.00 -3.00M283.00 -3.00L283.00 0.00M291.00 -1.00L294.00 -1.00M286.00 -8.00L284.00 -6.00M292.00 -21.00L294.00 -20.00M284.00 -19.00L283.00 -17.00M295.00 -19.00L296.00 -17.00M296.00 -19.00L297.00 -17.00M296.00 -15.00L295.00 -13.00M297.00 -15.00L296.00 -13.00M297.00 -3.00L296.00 -1.00M296.00 -2.00L294.00 -1.00M296.00 -17.00L296.00 -15.00M297.00 -17.00L297.00 -15.00M297.00 -5.00L297.00 -3.00M284.00 -3.00L286.00 -3.00M285.00 -20.00L284.00 -19.00M294.00 -20.00L295.00 -19.00M295.00 -20.00L296.00 -19.00M284.00 -17.00L285.00 -16.00M283.00 -16.00L284.00 -15.00M285.00 -16.00L284.00 -15.00M284.00 -3.00L283.00 -2.00M296.00 -1.00L295.00 0.00M283.00 -17.00L283.00 -16.00M304.00 -17.00L303.00 -12.00M305.00 -17.00L304.00 -12.00M315.00 -17.00L316.00 -12.00M316.00 -17.00L317.00 -12.00M303.00 -9.00L304.00 -4.00M304.00 -9.00L305.00 -4.00M316.00 -9.00L315.00 -4.00M317.00 -9.00L316.00 -4.00M306.00 -20.00L304.00 -17.00M314.00 -20.00L316.00 -17.00M304.00 -4.00L306.00 -1.00M316.00 -4.00L314.00 -1.00M309.00 -21.00L306.00 -20.00M311.00 -21.00L314.00 -20.00M306.00 -1.00L309.00 0.00M314.00 -1.00L311.00 0.00M303.00 -12.00L303.00 -9.00M304.00 -12.00L304.00 -9.00M316.00 -12.00L316.00 -9.00M317.00 -12.00L317.00 -9.00M309.00 -21.00L307.00 -20.00M311.00 -21.00L313.00 -20.00M306.00 -19.00L305.00 -17.00M314.00 -19.00L315.00 -17.00M305.00 -4.00L306.00 -2.00M315.00 -4.00L314.00 -2.00M307.00 -1.00L309.00 0.00M313.00 -1.00L311.00 0.00M309.00 -21.00L311.00 -21.00M309.00 0.00L311.00 0.00M307.00 -20.00L306.00 -19.00M313.00 -20.00L314.00 -19.00M306.00 -2.00L307.00 -1.00M314.00 -2.00L313.00 -1.00M324.00 -17.00L323.00 -12.00M325.00 -17.00L324.00 -12.00M335.00 -17.00L336.00 -12.00M336.00 -17.00L337.00 -12.00M323.00 -9.00L324.00 -4.00M324.00 -9.00L325.00 -4.00M336.00 -9.00L335.00 -4.00M337.00 -9.00L336.00 -4.00M326.00 -20.00L324.00 -17.00M334.00 -20.00L336.00 -17.00M324.00 -4.00L326.00 -1.00M336.00 -4.00L334.00 -1.00M329.00 -21.00L326.00 -20.00M331.00 -21.00L334.00 -20.00M326.00 -1.00L329.00 0.00M334.00 -1.00L331.00 0.00M323.00 -12.00L323.00 -9.00M324.00 -12.00L324.00 -9.00M336.00 -12.00L336.00 -9.00M337.00 -12.00L337.00 -9.00M329.00 -21.00L327.00 -20.00M331.00 -21.00L333.00 -20.00M326.00 -19.00L325.00 -17.00M334.00 -19.00L335.00 -17.00M325.00 -4.00L326.00 -2.00M335.00 -4.00L334.00 -2.00M327.00 -1.00L329.00 0.00M333.00 -1.00L331.00 0.00M329.00 -21.00L331.00 -21.00M329.00 0.00L331.00 0.00M327.00 -20.00L326.00 -19.00M333.00 -20.00L334.00 -19.00M326.00 -2.00L327.00 -1.00M334.00 -2.00L333.00 -1.00M345.00 -21.00L343.00 -11.00M345.00 -21.00L355.00 -21.00M355.00 -21.00L350.00 -20.00M345.00 -20.00L350.00 -20.00M348.00 -14.00L345.00 -13.00M351.00 -14.00L354.00 -13.00M355.00 -11.00L356.00 -8.00M356.00 -11.00L357.00 -8.00M356.00 -6.00L355.00 -3.00M357.00 -6.00L356.00 -3.00M345.00 -1.00L348.00 0.00M354.00 -1.00L351.00 0.00M348.00 -14.00L351.00 -14.00M348.00 0.00L351.00 0.00M345.00 -13.00L343.00 -11.00M353.00 -13.00L355.00 -11.00M354.00 -13.00L356.00 -11.00M355.00 -3.00L353.00 -1.00M356.00 -3.00L354.00 -1.00M343.00 -4.00L344.00 -2.00M356.00 -8.00L356.00 -6.00M357.00 -8.00L357.00 -6.00M344.00 -6.00L343.00 -5.00M344.00 -6.00L345.00 -5.00M345.00 -5.00L344.00 -4.00M344.00 -2.00L345.00 -1.00M343.00 -5.00L343.00 -4.00M368.00 -16.00L369.00 -11.00M369.00 -16.00L370.00 -11.00M369.00 -7.00L368.00 -2.00M370.00 -7.00L369.00 -2.00M365.00 -23.00L367.00 -19.00M367.00 -20.00L369.00 -16.00M369.00 -2.00L367.00 2.00M367.00 1.00L365.00 5.00M369.00 -11.00L369.00 -7.00M370.00 -11.00L370.00 -7.00M365.00 -23.00L367.00 -20.00M367.00 2.00L365.00 5.00M367.00 -19.00L368.00 -16.00M368.00 -2.00L367.00 1.00M363.00 -25.00L365.00 -23.00M365.00 5.00L363.00 7.00" fill="none" stroke="#000" stroke-width="1.1" vector-effect="non-scaling-stroke" stroke-linecap="round" stroke-linejoin="round"/></g>
<g><title>This Work</title><path transform="translate(621.43 539.30) scale(0.5865 0.5714)" d="M9.00 -21.00L9.00 0.00M10.00 -21.00L10.00 0.00M2.00 -21.00L17.00 -21.00M6.00 0.00L13.00 0.00M3.00 -21.00L2.00 -15.00M16.00 -21.00L17.00 -15.00M2.00 -21.00L2.00 -15.00M17.00 -21.00L17.00 -15.00M24.00 -21.00L24.00 0.00M25.00 -21.00L25.00 0.00M35.00 -11.00L35.00 0.00M36.00 -11.00L36.00 0.00M21.00 0.00L28.00 0.00M32.00 0.00L39.00 0.00M21.00 -21.00L25.00 -21.00M30.00 -14.00L27.00 -13.00M32.00 -14.00L35.00 -13.00M27.00 -13.00L25.00 -11.00M32.00 -14.00L34.00 -13.00M34.00 -13.00L35.00 -11.00M35.00 -13.00L36.00 -11.00M30.00 -14.00L32.00 -14.00M46.00 -14.00L46.00 0.00M47.00 -14.00L47.00 0.00M43.00 0.00L50.00 0.00M43.00 -14.00L47.00 -14.00M46.00 -21.00L45.00 -20.00M46.00 -21.00L47.00 -20.00M45.00 -20.00L46.00 -19.00M47.00 -20.00L46.00 -19.00M58.00 -9.00L63.00 -7.00M58.00 -8.00L63.00 -6.00M58.00 -14.00L62.00 -14.00M66.00 -14.00L66.00 -10.00M55.00 -4.00L55.00 0.00M59.00 0.00L63.00 0.00M66.00 -5.00L66.00 -2.00M58.00 -14.00L56.00 -13.00M62.00 -14.00L64.00 -13.00M66.00 -14.00L65.00 -12.00M65.00 -12.00L66.00 -10.00M56.00 -10.00L58.00 -9.00M56.00 -9.00L58.00 -8.00M63.00 -7.00L65.00 -6.00M63.00 -6.00L65.00 -5.00M55.00 -4.00L56.00 -2.00M56.00 -2.00L55.00 0.00M57.00 -1.00L59.00 0.00M65.00 -1.00L63.00 0.00M55.00 -12.00L55.00 -10.00M56.00 -13.00L55.00 -12.00M64.00 -13.00L65.00 -12.00M55.00 -11.00L56.00 -10.00M55.00 -10.00L56.00 -9.00M65.00 -6.00L66.00 -5.00M65.00 -5.00L66.00 -4.00M56.00 -2.00L57.00 -1.00M66.00 -2.00L65.00 -1.00M89.00 -21.00L93.00 0.00M97.00 -21.00L93.00 0.00M97.00 -21.00L101.00 0.00M105.00 -21.00L101.00 0.00M90.00 -21.00L93.00 -5.00M98.00 -21.00L101.00 -5.00M86.00 -21.00L93.00 -21.00M102.00 -21.00L108.00 -21.00M118.00 -14.00L115.00 -13.00M120.00 -14.00L123.00 -13.00M113.00 -11.00L112.00 -8.00M114.00 -11.00L113.00 -8.00M124.00 -11.00L125.00 -8.00M125.00 -11.00L126.00 -8.00M112.00 -6.00L113.00 -3.00M113.00 -6.00L114.00 -3.00M125.00 -6.00L124.00 -3.00M126.00 -6.00L125.00 -3.00M115.00 -1.00L118.00 0.00M123.00 -1.00L120.00 0.00M115.00 -13.00L113.00 -11.00M116.00 -13.00L114.00 -11.00M122.00 -13.00L124.00 -11.00M123.00 -13.00L125.00 -11.00M113.00 -3.00L115.00 -1.00M114.00 -3.00L116.00 -1.00M124.00 -3.00L122.00 -1.00M125.00 -3.00L123.00 -1.00M118.00 -14.00L116.00 -13.00M116.00 -1.00L118.00 0.00M118.00 -14.00L120.00 -14.00M112.00 -8.00L112.00 -6.00M113.00 -8.00L113.00 -6.00M125.00 -8.00L125.00 -6.00M126.00 -8.00L126.00 -6.00M118.00 0.00L120.00 0.00M134.00 -14.00L134.00 0.00M135.00 -14.00L135.00 0.00M131.00 0.00L138.00 0.00M131.00 -14.00L135.00 -14.00M136.00 -11.00L135.00 -8.00M140.00 -14.00L143.00 -14.00M138.00 -13.00L136.00 -11.00M140.00 -14.00L138.00 -13.00M143.00 -14.00L144.00 -13.00M143.00 -13.00L142.00 -12.00M142.00 -12.00L143.00 -11.00M144.00 -12.00L143.00 -11.00M144.00 -13.00L144.00 -12.00M151.00 -21.00L151.00 0.00M152.00 -21.00L152.00 0.00M162.00 -14.00L152.00 -4.00M156.00 -8.00L162.00 0.00M157.00 -8.00L163.00 0.00M148.00 0.00L155.00 0.00M159.00 -14.00L165.00 -14.00M159.00 0.00L165.00 0.00M148.00 -21.00L152.00 -21.00" fill="none" stroke="#f00" stroke-width="1.1" vector-effect="non-scaling-stroke" stroke-linecap="round" stroke-linejoin="round"/></g>
<g><title>[C/Fe]</title><path transform="translate(22.50 586.71) rotate(-90) scale(0.5402 0.5524)" d="M4.00 -25.00L4.00 7.00M5.00 -25.00L5.00 7.00M4.00 -25.00L11.00 -25.00M4.00 7.00L11.00 7.00M32.00 -21.00L32.00 -15.00M17.00 -13.00L17.00 -8.00M18.00 -13.00L18.00 -8.00M24.00 -21.00L21.00 -20.00M26.00 -21.00L29.00 -20.00M32.00 -21.00L31.00 -18.00M31.00 -18.00L32.00 -15.00M18.00 -16.00L17.00 -13.00M19.00 -16.00L18.00 -13.00M17.00 -8.00L18.00 -5.00M18.00 -8.00L19.00 -5.00M21.00 -1.00L24.00 0.00M29.00 -1.00L26.00 0.00M21.00 -20.00L19.00 -18.00M22.00 -20.00L20.00 -18.00M29.00 -20.00L31.00 -18.00M19.00 -3.00L21.00 -1.00M20.00 -3.00L22.00 -1.00M31.00 -3.00L29.00 -1.00M24.00 -21.00L22.00 -20.00M19.00 -18.00L18.00 -16.00M20.00 -18.00L19.00 -16.00M18.00 -5.00L19.00 -3.00M19.00 -5.00L20.00 -3.00M32.00 -5.00L31.00 -3.00M22.00 -1.00L24.00 0.00M24.00 -21.00L26.00 -21.00M24.00 0.00L26.00 0.00M55.00 -25.00L37.00 7.00M62.00 -21.00L62.00 0.00M63.00 -21.00L63.00 0.00M59.00 -21.00L75.00 -21.00M69.00 -15.00L69.00 -7.00M59.00 0.00L66.00 0.00M74.00 -21.00L75.00 -15.00M75.00 -21.00L75.00 -15.00M63.00 -11.00L69.00 -11.00M81.00 -8.00L93.00 -8.00M86.00 -14.00L83.00 -13.00M81.00 -11.00L80.00 -8.00M82.00 -11.00L81.00 -8.00M80.00 -6.00L81.00 -3.00M81.00 -6.00L82.00 -3.00M83.00 -1.00L86.00 0.00M91.00 -1.00L88.00 0.00M86.00 -14.00L89.00 -14.00M92.00 -11.00L92.00 -8.00M83.00 -13.00L81.00 -11.00M84.00 -13.00L82.00 -11.00M81.00 -3.00L83.00 -1.00M82.00 -3.00L84.00 -1.00M93.00 -3.00L91.00 -1.00M86.00 -14.00L84.00 -13.00M89.00 -14.00L91.00 -13.00M91.00 -13.00L92.00 -11.00M92.00 -12.00L93.00 -10.00M84.00 -1.00L86.00 0.00M93.00 -10.00L93.00 -8.00M80.00 -8.00L80.00 -6.00M81.00 -8.00L81.00 -6.00M86.00 0.00L88.00 0.00M105.00 -25.00L105.00 7.00M106.00 -25.00L106.00 7.00M99.00 -25.00L106.00 -25.00M99.00 7.00L106.00 7.00" fill="none" stroke="#000" stroke-width="1.1" vector-effect="non-scaling-stroke" stroke-linecap="round" stroke-linejoin="round"/></g>
</svg></body></html>
